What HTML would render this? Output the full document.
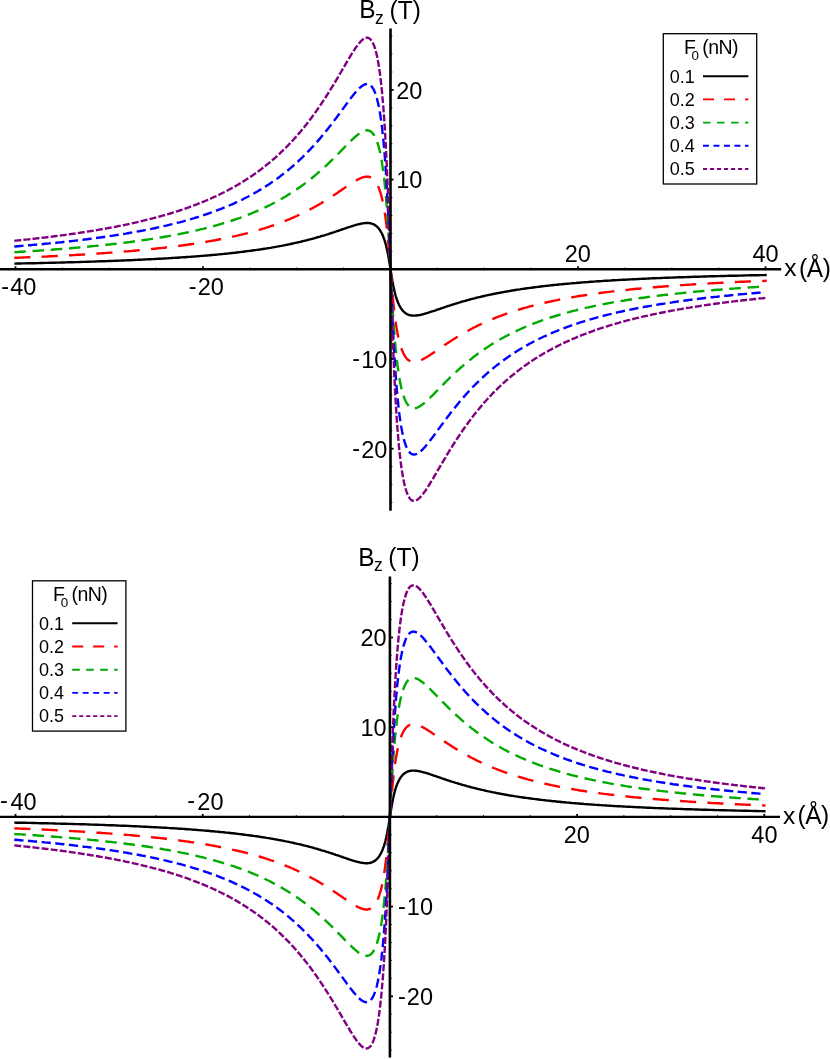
<!DOCTYPE html>
<html><head><meta charset="utf-8"><title>Bz plots</title>
<style>
html,body{margin:0;padding:0;background:#fff;}
body{width:830px;height:1059px;overflow:hidden;}
svg{display:block;will-change:transform;}
text{font-family:"Liberation Sans",sans-serif;fill:#000;}
</style></head><body>
<svg width="830" height="1059" viewBox="0 0 830 1059">
<rect x="0" y="0" width="830" height="1059" fill="#fff"/>
<path d="M15.5,263.6 18.0,263.5 20.5,263.5 23.0,263.4 25.4,263.4 27.9,263.3 30.4,263.3 32.8,263.2 35.2,263.2 37.7,263.1 40.1,263.0 42.5,263.0 44.9,262.9 47.3,262.9 49.7,262.8 52.1,262.8 54.4,262.7 56.8,262.6 59.2,262.6 61.5,262.5 63.8,262.5 66.2,262.4 68.5,262.3 70.8,262.3 73.1,262.2 75.4,262.1 77.7,262.1 80.0,262.0 82.2,261.9 84.5,261.9 86.7,261.8 89.0,261.7 91.2,261.6 93.5,261.6 95.7,261.5 97.9,261.4 100.1,261.3 102.3,261.3 104.5,261.2 106.7,261.1 108.8,261.0 111.0,261.0 113.2,260.9 115.3,260.8 117.4,260.7 119.6,260.6 121.7,260.5 123.8,260.5 125.9,260.4 128.0,260.3 130.1,260.2 132.2,260.1 134.2,260.0 136.3,259.9 138.4,259.8 140.4,259.7 142.4,259.6 144.5,259.5 146.5,259.4 148.5,259.3 150.5,259.2 152.5,259.1 154.5,259.0 156.5,258.9 158.4,258.8 160.4,258.7 162.3,258.6 164.3,258.5 166.2,258.4 168.2,258.3 170.1,258.1 172.0,258.0 173.9,257.9 175.8,257.8 177.7,257.7 179.6,257.5 181.4,257.4 183.3,257.3 185.2,257.2 187.0,257.0 188.8,256.9 190.7,256.8 192.5,256.6 194.3,256.5 196.1,256.4 197.9,256.2 199.7,256.1 201.5,255.9 203.2,255.8 205.0,255.6 206.8,255.5 208.5,255.4 210.2,255.2 212.0,255.0 213.7,254.9 215.4,254.7 217.1,254.6 218.8,254.4 220.5,254.2 222.2,254.1 223.8,253.9 225.5,253.7 227.2,253.6 228.8,253.4 230.4,253.2 232.1,253.0 233.7,252.9 235.3,252.7 236.9,252.5 238.5,252.3 240.1,252.1 241.7,251.9 243.2,251.7 244.8,251.5 246.3,251.3 247.9,251.1 249.4,250.9 251.0,250.7 252.5,250.5 254.0,250.3 255.5,250.1 257.0,249.9 258.5,249.7 260.0,249.5 261.4,249.2 262.9,249.0 264.4,248.8 265.8,248.6 267.2,248.3 268.7,248.1 270.1,247.9 271.5,247.6 272.9,247.4 274.3,247.1 275.7,246.9 277.1,246.6 278.4,246.4 279.8,246.1 281.1,245.9 282.5,245.6 283.8,245.4 285.2,245.1 286.5,244.8 287.8,244.6 289.1,244.3 290.4,244.0 291.7,243.8 293.0,243.5 294.2,243.2 295.5,242.9 296.8,242.6 298.0,242.3 299.2,242.1 300.5,241.8 301.7,241.5 302.9,241.2 304.1,240.9 305.3,240.6 306.5,240.3 307.7,240.0 308.8,239.7 310.0,239.4 311.1,239.1 312.3,238.8 313.4,238.5 314.6,238.1 315.7,237.8 316.8,237.5 317.9,237.2 319.0,236.9 320.1,236.6 321.2,236.2 322.2,235.9 323.3,235.6 324.4,235.3 325.4,235.0 326.4,234.6 327.5,234.3 328.5,234.0 329.5,233.7 330.5,233.3 331.5,233.0 332.5,232.7 333.5,232.4 334.4,232.1 335.4,231.7 336.4,231.4 337.3,231.1 338.2,230.8 339.2,230.5 340.1,230.1 341.0,229.8 341.9,229.5 342.8,229.2 343.7,228.9 344.6,228.6 345.4,228.3 346.3,228.0 347.2,227.7 348.0,227.4 348.8,227.2 349.7,226.9 350.5,226.6 351.3,226.4 352.1,226.1 352.9,225.8 353.7,225.6 354.5,225.4 355.2,225.1 356.0,224.9 356.8,224.7 357.5,224.5 358.2,224.3 359.0,224.1 359.7,224.0 360.4,223.8 361.1,223.6 361.8,223.5 362.5,223.4 363.2,223.3 363.8,223.2 364.5,223.1 365.2,223.1 365.8,223.0 366.4,223.0 367.1,223.0 367.7,223.0 368.3,223.0 368.9,223.1 369.5,223.1 370.1,223.2 370.7,223.4 371.2,223.5 371.8,223.6 372.4,223.8 372.9,224.0 373.4,224.3 374.0,224.5 374.5,224.8 375.0,225.1 375.5,225.5 376.0,225.8 376.5,226.2 377.0,226.7 377.4,227.1 377.9,227.6 378.4,228.1 378.8,228.6 379.2,229.2 379.7,229.8 380.1,230.4 380.5,231.1 380.9,231.8 381.3,232.5 381.7,233.2 382.1,234.0 382.4,234.8 382.8,235.6 383.2,236.5 383.5,237.3 383.8,238.2 384.2,239.2 384.5,240.1 384.8,241.1 385.1,242.1 385.4,243.1 385.7,244.2 386.0,245.2 386.2,246.3 386.5,247.4 386.8,248.5 387.0,249.6 387.2,250.7 387.5,251.8 387.7,252.9 387.9,254.0 388.1,255.1 388.3,256.1 388.5,257.1 388.7,258.2 388.8,259.1 389.0,260.1 389.1,261.0 389.3,261.9 389.4,262.7 389.6,263.5 389.7,264.2 389.8,264.9 389.9,265.5 390.0,266.1 390.1,266.7 390.2,267.2 390.2,267.6 390.3,268.0 390.4,268.4 390.4,268.6 390.4,268.9 390.5,269.1 390.5,269.2 390.5,269.3 390.5,269.3 390.5,269.3 390.5,269.4 390.5,269.5 390.6,269.7 390.6,270.0 390.6,270.2 390.7,270.6 390.8,271.0 390.8,271.4 390.9,271.9 391.0,272.5 391.1,273.1 391.2,273.7 391.3,274.4 391.4,275.1 391.6,275.9 391.7,276.7 391.9,277.6 392.0,278.5 392.2,279.5 392.3,280.4 392.5,281.5 392.7,282.5 392.9,283.5 393.1,284.6 393.3,285.7 393.5,286.8 393.8,287.9 394.0,289.0 394.2,290.1 394.5,291.2 394.8,292.3 395.0,293.4 395.3,294.4 395.6,295.5 395.9,296.5 396.2,297.5 396.5,298.5 396.8,299.4 397.2,300.4 397.5,301.3 397.9,302.1 398.2,303.0 398.6,303.8 398.9,304.6 399.3,305.4 399.7,306.1 400.1,306.8 400.5,307.5 400.9,308.2 401.3,308.8 401.8,309.4 402.2,310.0 402.7,310.5 403.1,311.0 403.6,311.5 404.0,311.9 404.5,312.4 405.0,312.8 405.5,313.1 406.0,313.5 406.5,313.8 407.0,314.1 407.6,314.3 408.1,314.6 408.6,314.8 409.2,315.0 409.8,315.1 410.3,315.2 410.9,315.4 411.5,315.5 412.1,315.5 412.7,315.6 413.3,315.6 413.9,315.6 414.6,315.6 415.2,315.6 415.9,315.5 416.5,315.5 417.2,315.4 417.8,315.3 418.5,315.2 419.2,315.1 419.9,315.0 420.6,314.8 421.3,314.6 422.0,314.5 422.8,314.3 423.5,314.1 424.2,313.9 425.0,313.7 425.8,313.5 426.5,313.2 427.3,313.0 428.1,312.8 428.9,312.5 429.7,312.2 430.5,312.0 431.3,311.7 432.2,311.4 433.0,311.2 433.9,310.9 434.7,310.6 435.6,310.3 436.4,310.0 437.3,309.7 438.2,309.4 439.1,309.1 440.0,308.8 440.9,308.5 441.8,308.1 442.8,307.8 443.7,307.5 444.7,307.2 445.6,306.9 446.6,306.5 447.5,306.2 448.5,305.9 449.5,305.6 450.5,305.3 451.5,304.9 452.5,304.6 453.5,304.3 454.6,304.0 455.6,303.6 456.7,303.3 457.7,303.0 458.8,302.7 459.8,302.4 460.9,302.0 462.0,301.7 463.1,301.4 464.2,301.1 465.3,300.8 466.4,300.5 467.6,300.1 468.7,299.8 469.9,299.5 471.0,299.2 472.2,298.9 473.3,298.6 474.5,298.3 475.7,298.0 476.9,297.7 478.1,297.4 479.3,297.1 480.5,296.8 481.8,296.5 483.0,296.3 484.2,296.0 485.5,295.7 486.8,295.4 488.0,295.1 489.3,294.8 490.6,294.6 491.9,294.3 493.2,294.0 494.5,293.8 495.8,293.5 497.2,293.2 498.5,293.0 499.9,292.7 501.2,292.5 502.6,292.2 503.9,292.0 505.3,291.7 506.7,291.5 508.1,291.2 509.5,291.0 510.9,290.7 512.3,290.5 513.8,290.3 515.2,290.0 516.7,289.8 518.1,289.6 519.6,289.4 521.0,289.1 522.5,288.9 524.0,288.7 525.5,288.5 527.0,288.3 528.5,288.1 530.0,287.9 531.6,287.7 533.1,287.5 534.7,287.3 536.2,287.1 537.8,286.9 539.3,286.7 540.9,286.5 542.5,286.3 544.1,286.1 545.7,285.9 547.3,285.7 548.9,285.6 550.6,285.4 552.2,285.2 553.9,285.0 555.5,284.9 557.2,284.7 558.8,284.5 560.5,284.4 562.2,284.2 563.9,284.0 565.6,283.9 567.3,283.7 569.0,283.6 570.8,283.4 572.5,283.2 574.3,283.1 576.0,283.0 577.8,282.8 579.5,282.7 581.3,282.5 583.1,282.4 584.9,282.2 586.7,282.1 588.5,282.0 590.3,281.8 592.2,281.7 594.0,281.6 595.9,281.4 597.7,281.3 599.6,281.2 601.4,281.1 603.3,280.9 605.2,280.8 607.1,280.7 609.0,280.6 610.9,280.5 612.8,280.3 614.8,280.2 616.7,280.1 618.6,280.0 620.6,279.9 622.6,279.8 624.5,279.7 626.5,279.6 628.5,279.5 630.5,279.4 632.5,279.3 634.5,279.2 636.5,279.1 638.6,279.0 640.6,278.9 642.7,278.8 644.7,278.7 646.8,278.6 648.8,278.5 650.9,278.4 653.0,278.3 655.1,278.2 657.2,278.1 659.3,278.1 661.4,278.0 663.6,277.9 665.7,277.8 667.9,277.7 670.0,277.6 672.2,277.6 674.3,277.5 676.5,277.4 678.7,277.3 680.9,277.3 683.1,277.2 685.3,277.1 687.5,277.0 689.8,277.0 692.0,276.9 694.3,276.8 696.5,276.7 698.8,276.7 701.0,276.6 703.3,276.5 705.6,276.5 707.9,276.4 710.2,276.3 712.5,276.3 714.8,276.2 717.2,276.1 719.5,276.1 721.9,276.0 724.2,276.0 726.6,275.9 728.9,275.8 731.3,275.8 733.7,275.7 736.1,275.7 738.5,275.6 740.9,275.6 743.3,275.5 745.8,275.4 748.2,275.4 750.7,275.3 753.1,275.3 755.6,275.2 758.0,275.2 760.5,275.1 763.0,275.1 765.5,275.0" fill="none" stroke="#000000" stroke-width="2.4" stroke-linecap="square" stroke-linejoin="round"/>
<path d="M15.5,257.8 18.0,257.7 20.5,257.6 23.0,257.5 25.4,257.4 27.9,257.3 30.4,257.2 32.8,257.1 35.2,257.0 37.7,256.9 40.1,256.8 42.5,256.7 44.9,256.6 47.3,256.5 49.7,256.3 52.1,256.2 54.4,256.1 56.8,256.0 59.2,255.9 61.5,255.7 63.8,255.6 66.2,255.5 68.5,255.4 70.8,255.2 73.1,255.1 75.4,255.0 77.7,254.8 80.0,254.7 82.2,254.6 84.5,254.4 86.7,254.3 89.0,254.1 91.2,254.0 93.5,253.8 95.7,253.7 97.9,253.5 100.1,253.4 102.3,253.2 104.5,253.1 106.7,252.9 108.8,252.8 111.0,252.6 113.2,252.4 115.3,252.3 117.4,252.1 119.6,251.9 121.7,251.8 123.8,251.6 125.9,251.4 128.0,251.3 130.1,251.1 132.2,250.9 134.2,250.7 136.3,250.5 138.4,250.3 140.4,250.1 142.4,249.9 144.5,249.8 146.5,249.6 148.5,249.4 150.5,249.2 152.5,248.9 154.5,248.7 156.5,248.5 158.4,248.3 160.4,248.1 162.3,247.9 164.3,247.7 166.2,247.4 168.2,247.2 170.1,247.0 172.0,246.7 173.9,246.5 175.8,246.3 177.7,246.0 179.6,245.8 181.4,245.5 183.3,245.3 185.2,245.0 187.0,244.8 188.8,244.5 190.7,244.2 192.5,244.0 194.3,243.7 196.1,243.4 197.9,243.1 199.7,242.9 201.5,242.6 203.2,242.3 205.0,242.0 206.8,241.7 208.5,241.4 210.2,241.1 212.0,240.8 213.7,240.5 215.4,240.2 217.1,239.8 218.8,239.5 220.5,239.2 222.2,238.9 223.8,238.5 225.5,238.2 227.2,237.8 228.8,237.5 230.4,237.1 232.1,236.8 233.7,236.4 235.3,236.1 236.9,235.7 238.5,235.3 240.1,234.9 241.7,234.6 243.2,234.2 244.8,233.8 246.3,233.4 247.9,233.0 249.4,232.6 251.0,232.2 252.5,231.8 254.0,231.3 255.5,230.9 257.0,230.5 258.5,230.1 260.0,229.6 261.4,229.2 262.9,228.7 264.4,228.3 265.8,227.8 267.2,227.4 268.7,226.9 270.1,226.4 271.5,225.9 272.9,225.5 274.3,225.0 275.7,224.5 277.1,224.0 278.4,223.5 279.8,223.0 281.1,222.5 282.5,222.0 283.8,221.4 285.2,220.9 286.5,220.4 287.8,219.8 289.1,219.3 290.4,218.8 291.7,218.2 293.0,217.7 294.2,217.1 295.5,216.5 296.8,216.0 298.0,215.4 299.2,214.8 300.5,214.2 301.7,213.7 302.9,213.1 304.1,212.5 305.3,211.9 306.5,211.3 307.7,210.7 308.8,210.1 310.0,209.5 311.1,208.8 312.3,208.2 313.4,207.6 314.6,207.0 315.7,206.4 316.8,205.7 317.9,205.1 319.0,204.5 320.1,203.8 321.2,203.2 322.2,202.5 323.3,201.9 324.4,201.3 325.4,200.6 326.4,200.0 327.5,199.3 328.5,198.7 329.5,198.0 330.5,197.4 331.5,196.7 332.5,196.1 333.5,195.4 334.4,194.8 335.4,194.2 336.4,193.5 337.3,192.9 338.2,192.3 339.2,191.6 340.1,191.0 341.0,190.4 341.9,189.8 342.8,189.1 343.7,188.5 344.6,187.9 345.4,187.3 346.3,186.7 347.2,186.2 348.0,185.6 348.8,185.0 349.7,184.5 350.5,183.9 351.3,183.4 352.1,182.9 352.9,182.4 353.7,181.9 354.5,181.4 355.2,181.0 356.0,180.5 356.8,180.1 357.5,179.7 358.2,179.3 359.0,178.9 359.7,178.6 360.4,178.3 361.1,178.0 361.8,177.7 362.5,177.5 363.2,177.3 363.8,177.1 364.5,176.9 365.2,176.8 365.8,176.7 366.4,176.7 367.1,176.7 367.7,176.7 368.3,176.7 368.9,176.8 369.5,177.0 370.1,177.2 370.7,177.4 371.2,177.7 371.8,178.0 372.4,178.4 372.9,178.8 373.4,179.3 374.0,179.8 374.5,180.3 375.0,181.0 375.5,181.7 376.0,182.4 376.5,183.2 377.0,184.0 377.4,184.9 377.9,185.9 378.4,186.9 378.8,188.0 379.2,189.1 379.7,190.3 380.1,191.5 380.5,192.8 380.9,194.2 381.3,195.6 381.7,197.1 382.1,198.6 382.4,200.2 382.8,201.9 383.2,203.6 383.5,205.4 383.8,207.2 384.2,209.0 384.5,211.0 384.8,212.9 385.1,214.9 385.4,217.0 385.7,219.1 386.0,221.2 386.2,223.3 386.5,225.5 386.8,227.7 387.0,229.9 387.2,232.1 387.5,234.3 387.7,236.5 387.9,238.7 388.1,240.8 388.3,242.9 388.5,245.0 388.7,247.0 388.8,249.0 389.0,250.8 389.1,252.7 389.3,254.4 389.4,256.1 389.6,257.6 389.7,259.1 389.8,260.5 389.9,261.8 390.0,263.0 390.1,264.1 390.2,265.1 390.2,266.0 390.3,266.7 390.4,267.4 390.4,268.0 390.4,268.5 390.5,268.8 390.5,269.1 390.5,269.2 390.5,269.3 390.5,269.4 390.5,269.5 390.5,269.8 390.6,270.1 390.6,270.6 390.6,271.2 390.7,271.9 390.8,272.6 390.8,273.5 390.9,274.5 391.0,275.6 391.1,276.8 391.2,278.1 391.3,279.5 391.4,281.0 391.6,282.5 391.7,284.2 391.9,285.9 392.0,287.8 392.2,289.6 392.3,291.6 392.5,293.6 392.7,295.7 392.9,297.8 393.1,299.9 393.3,302.1 393.5,304.3 393.8,306.5 394.0,308.7 394.2,310.9 394.5,313.1 394.8,315.3 395.0,317.4 395.3,319.5 395.6,321.6 395.9,323.7 396.2,325.7 396.5,327.6 396.8,329.6 397.2,331.4 397.5,333.2 397.9,335.0 398.2,336.7 398.6,338.4 398.9,340.0 399.3,341.5 399.7,343.0 400.1,344.4 400.5,345.8 400.9,347.1 401.3,348.3 401.8,349.5 402.2,350.6 402.7,351.7 403.1,352.7 403.6,353.7 404.0,354.6 404.5,355.4 405.0,356.2 405.5,356.9 406.0,357.6 406.5,358.3 407.0,358.8 407.6,359.3 408.1,359.8 408.6,360.2 409.2,360.6 409.8,360.9 410.3,361.2 410.9,361.4 411.5,361.6 412.1,361.8 412.7,361.9 413.3,361.9 413.9,361.9 414.6,361.9 415.2,361.9 415.9,361.8 416.5,361.7 417.2,361.5 417.8,361.3 418.5,361.1 419.2,360.9 419.9,360.6 420.6,360.3 421.3,360.0 422.0,359.7 422.8,359.3 423.5,358.9 424.2,358.5 425.0,358.1 425.8,357.6 426.5,357.2 427.3,356.7 428.1,356.2 428.9,355.7 429.7,355.2 430.5,354.7 431.3,354.1 432.2,353.6 433.0,353.0 433.9,352.4 434.7,351.9 435.6,351.3 436.4,350.7 437.3,350.1 438.2,349.5 439.1,348.8 440.0,348.2 440.9,347.6 441.8,347.0 442.8,346.3 443.7,345.7 444.7,345.1 445.6,344.4 446.6,343.8 447.5,343.2 448.5,342.5 449.5,341.9 450.5,341.2 451.5,340.6 452.5,339.9 453.5,339.3 454.6,338.6 455.6,338.0 456.7,337.3 457.7,336.7 458.8,336.1 459.8,335.4 460.9,334.8 462.0,334.1 463.1,333.5 464.2,332.9 465.3,332.2 466.4,331.6 467.6,331.0 468.7,330.4 469.9,329.8 471.0,329.1 472.2,328.5 473.3,327.9 474.5,327.3 475.7,326.7 476.9,326.1 478.1,325.5 479.3,324.9 480.5,324.4 481.8,323.8 483.0,323.2 484.2,322.6 485.5,322.1 486.8,321.5 488.0,320.9 489.3,320.4 490.6,319.8 491.9,319.3 493.2,318.8 494.5,318.2 495.8,317.7 497.2,317.2 498.5,316.6 499.9,316.1 501.2,315.6 502.6,315.1 503.9,314.6 505.3,314.1 506.7,313.6 508.1,313.1 509.5,312.7 510.9,312.2 512.3,311.7 513.8,311.2 515.2,310.8 516.7,310.3 518.1,309.9 519.6,309.4 521.0,309.0 522.5,308.5 524.0,308.1 525.5,307.7 527.0,307.3 528.5,306.8 530.0,306.4 531.6,306.0 533.1,305.6 534.7,305.2 536.2,304.8 537.8,304.4 539.3,304.0 540.9,303.7 542.5,303.3 544.1,302.9 545.7,302.5 547.3,302.2 548.9,301.8 550.6,301.5 552.2,301.1 553.9,300.8 555.5,300.4 557.2,300.1 558.8,299.7 560.5,299.4 562.2,299.1 563.9,298.8 565.6,298.4 567.3,298.1 569.0,297.8 570.8,297.5 572.5,297.2 574.3,296.9 576.0,296.6 577.8,296.3 579.5,296.0 581.3,295.7 583.1,295.5 584.9,295.2 586.7,294.9 588.5,294.6 590.3,294.4 592.2,294.1 594.0,293.8 595.9,293.6 597.7,293.3 599.6,293.1 601.4,292.8 603.3,292.6 605.2,292.3 607.1,292.1 609.0,291.9 610.9,291.6 612.8,291.4 614.8,291.2 616.7,290.9 618.6,290.7 620.6,290.5 622.6,290.3 624.5,290.1 626.5,289.9 628.5,289.7 630.5,289.4 632.5,289.2 634.5,289.0 636.5,288.8 638.6,288.7 640.6,288.5 642.7,288.3 644.7,288.1 646.8,287.9 648.8,287.7 650.9,287.5 653.0,287.3 655.1,287.2 657.2,287.0 659.3,286.8 661.4,286.7 663.6,286.5 665.7,286.3 667.9,286.2 670.0,286.0 672.2,285.8 674.3,285.7 676.5,285.5 678.7,285.4 680.9,285.2 683.1,285.1 685.3,284.9 687.5,284.8 689.8,284.6 692.0,284.5 694.3,284.3 696.5,284.2 698.8,284.0 701.0,283.9 703.3,283.8 705.6,283.6 707.9,283.5 710.2,283.4 712.5,283.2 714.8,283.1 717.2,283.0 719.5,282.9 721.9,282.7 724.2,282.6 726.6,282.5 728.9,282.4 731.3,282.3 733.7,282.1 736.1,282.0 738.5,281.9 740.9,281.8 743.3,281.7 745.8,281.6 748.2,281.5 750.7,281.4 753.1,281.3 755.6,281.2 758.0,281.1 760.5,281.0 763.0,280.9 765.5,280.8" fill="none" stroke="#ff0000" stroke-width="2.4" stroke-linecap="square" stroke-linejoin="round" stroke-dasharray="13.70 13.70"/>
<path d="M15.5,252.1 18.0,252.0 20.5,251.8 23.0,251.7 25.4,251.5 27.9,251.4 30.4,251.2 32.8,251.0 35.2,250.9 37.7,250.7 40.1,250.5 42.5,250.4 44.9,250.2 47.3,250.0 49.7,249.9 52.1,249.7 54.4,249.5 56.8,249.3 59.2,249.1 61.5,248.9 63.8,248.8 66.2,248.6 68.5,248.4 70.8,248.2 73.1,248.0 75.4,247.8 77.7,247.6 80.0,247.4 82.2,247.2 84.5,247.0 86.7,246.8 89.0,246.6 91.2,246.3 93.5,246.1 95.7,245.9 97.9,245.7 100.1,245.4 102.3,245.2 104.5,245.0 106.7,244.7 108.8,244.5 111.0,244.3 113.2,244.0 115.3,243.8 117.4,243.5 119.6,243.3 121.7,243.0 123.8,242.8 125.9,242.5 128.0,242.2 130.1,242.0 132.2,241.7 134.2,241.4 136.3,241.1 138.4,240.9 140.4,240.6 142.4,240.3 144.5,240.0 146.5,239.7 148.5,239.4 150.5,239.1 152.5,238.8 154.5,238.5 156.5,238.1 158.4,237.8 160.4,237.5 162.3,237.2 164.3,236.8 166.2,236.5 168.2,236.2 170.1,235.8 172.0,235.5 173.9,235.1 175.8,234.7 177.7,234.4 179.6,234.0 181.4,233.6 183.3,233.3 185.2,232.9 187.0,232.5 188.8,232.1 190.7,231.7 192.5,231.3 194.3,230.9 196.1,230.5 197.9,230.1 199.7,229.6 201.5,229.2 203.2,228.8 205.0,228.3 206.8,227.9 208.5,227.5 210.2,227.0 212.0,226.5 213.7,226.1 215.4,225.6 217.1,225.1 218.8,224.6 220.5,224.1 222.2,223.6 223.8,223.1 225.5,222.6 227.2,222.1 228.8,221.6 230.4,221.1 232.1,220.5 233.7,220.0 235.3,219.5 236.9,218.9 238.5,218.3 240.1,217.8 241.7,217.2 243.2,216.6 244.8,216.0 246.3,215.4 247.9,214.8 249.4,214.2 251.0,213.6 252.5,213.0 254.0,212.4 255.5,211.7 257.0,211.1 258.5,210.4 260.0,209.8 261.4,209.1 262.9,208.4 264.4,207.8 265.8,207.1 267.2,206.4 268.7,205.7 270.1,205.0 271.5,204.3 272.9,203.5 274.3,202.8 275.7,202.1 277.1,201.3 278.4,200.6 279.8,199.8 281.1,199.1 282.5,198.3 283.8,197.5 285.2,196.7 286.5,195.9 287.8,195.1 289.1,194.3 290.4,193.5 291.7,192.7 293.0,191.8 294.2,191.0 295.5,190.2 296.8,189.3 298.0,188.4 299.2,187.6 300.5,186.7 301.7,185.8 302.9,185.0 304.1,184.1 305.3,183.2 306.5,182.3 307.7,181.4 308.8,180.5 310.0,179.5 311.1,178.6 312.3,177.7 313.4,176.8 314.6,175.8 315.7,174.9 316.8,173.9 317.9,173.0 319.0,172.0 320.1,171.1 321.2,170.1 322.2,169.2 323.3,168.2 324.4,167.2 325.4,166.3 326.4,165.3 327.5,164.3 328.5,163.4 329.5,162.4 330.5,161.4 331.5,160.5 332.5,159.5 333.5,158.5 334.4,157.6 335.4,156.6 336.4,155.6 337.3,154.7 338.2,153.7 339.2,152.8 340.1,151.8 341.0,150.9 341.9,150.0 342.8,149.1 343.7,148.1 344.6,147.2 345.4,146.4 346.3,145.5 347.2,144.6 348.0,143.7 348.8,142.9 349.7,142.1 350.5,141.3 351.3,140.5 352.1,139.7 352.9,138.9 353.7,138.2 354.5,137.5 355.2,136.8 356.0,136.1 356.8,135.5 357.5,134.9 358.2,134.3 359.0,133.8 359.7,133.3 360.4,132.8 361.1,132.3 361.8,131.9 362.5,131.6 363.2,131.3 363.8,131.0 364.5,130.8 365.2,130.6 365.8,130.4 366.4,130.4 367.1,130.3 367.7,130.4 368.3,130.5 368.9,130.6 369.5,130.8 370.1,131.1 370.7,131.5 371.2,131.9 371.8,132.3 372.4,132.9 372.9,133.5 373.4,134.2 374.0,135.0 374.5,135.9 375.0,136.8 375.5,137.8 376.0,138.9 376.5,140.1 377.0,141.4 377.4,142.7 377.9,144.2 378.4,145.7 378.8,147.3 379.2,149.0 379.7,150.8 380.1,152.7 380.5,154.6 380.9,156.7 381.3,158.8 381.7,161.0 382.1,163.3 382.4,165.7 382.8,168.2 383.2,170.8 383.5,173.4 383.8,176.1 384.2,178.9 384.5,181.8 384.8,184.7 385.1,187.8 385.4,190.8 385.7,194.0 386.0,197.1 386.2,200.4 386.5,203.6 386.8,206.9 387.0,210.2 387.2,213.5 387.5,216.8 387.7,220.1 387.9,223.4 388.1,226.6 388.3,229.7 388.5,232.8 388.7,235.9 388.8,238.8 389.0,241.6 389.1,244.3 389.3,247.0 389.4,249.4 389.6,251.8 389.7,254.0 389.8,256.1 389.9,258.0 390.0,259.8 390.1,261.5 390.2,263.0 390.2,264.3 390.3,265.5 390.4,266.5 390.4,267.3 390.4,268.0 390.5,268.6 390.5,269.0 390.5,269.2 390.5,269.3 390.5,269.4 390.5,269.6 390.5,270.0 390.6,270.6 390.6,271.3 390.6,272.1 390.7,273.1 390.8,274.3 390.8,275.6 390.9,277.1 391.0,278.8 391.1,280.6 391.2,282.5 391.3,284.6 391.4,286.8 391.6,289.2 391.7,291.6 391.9,294.3 392.0,297.0 392.2,299.8 392.3,302.7 392.5,305.8 392.7,308.9 392.9,312.0 393.1,315.2 393.3,318.5 393.5,321.8 393.8,325.1 394.0,328.4 394.2,331.7 394.5,335.0 394.8,338.2 395.0,341.5 395.3,344.6 395.6,347.8 395.9,350.8 396.2,353.9 396.5,356.8 396.8,359.7 397.2,362.5 397.5,365.2 397.9,367.8 398.2,370.4 398.6,372.9 398.9,375.3 399.3,377.6 399.7,379.8 400.1,381.9 400.5,384.0 400.9,385.9 401.3,387.8 401.8,389.6 402.2,391.3 402.7,392.9 403.1,394.4 403.6,395.9 404.0,397.2 404.5,398.5 405.0,399.7 405.5,400.8 406.0,401.8 406.5,402.7 407.0,403.6 407.6,404.4 408.1,405.1 408.6,405.7 409.2,406.3 409.8,406.7 410.3,407.1 410.9,407.5 411.5,407.8 412.1,408.0 412.7,408.1 413.3,408.2 413.9,408.3 414.6,408.2 415.2,408.2 415.9,408.0 416.5,407.8 417.2,407.6 417.8,407.3 418.5,407.0 419.2,406.7 419.9,406.3 420.6,405.8 421.3,405.3 422.0,404.8 422.8,404.3 423.5,403.7 424.2,403.1 425.0,402.5 425.8,401.8 426.5,401.1 427.3,400.4 428.1,399.7 428.9,398.9 429.7,398.1 430.5,397.3 431.3,396.5 432.2,395.7 433.0,394.9 433.9,394.0 434.7,393.1 435.6,392.2 436.4,391.4 437.3,390.5 438.2,389.5 439.1,388.6 440.0,387.7 440.9,386.8 441.8,385.8 442.8,384.9 443.7,383.9 444.7,383.0 445.6,382.0 446.6,381.0 447.5,380.1 448.5,379.1 449.5,378.1 450.5,377.2 451.5,376.2 452.5,375.2 453.5,374.3 454.6,373.3 455.6,372.3 456.7,371.4 457.7,370.4 458.8,369.4 459.8,368.5 460.9,367.5 462.0,366.6 463.1,365.6 464.2,364.7 465.3,363.7 466.4,362.8 467.6,361.8 468.7,360.9 469.9,360.0 471.0,359.1 472.2,358.1 473.3,357.2 474.5,356.3 475.7,355.4 476.9,354.5 478.1,353.6 479.3,352.8 480.5,351.9 481.8,351.0 483.0,350.2 484.2,349.3 485.5,348.4 486.8,347.6 488.0,346.8 489.3,345.9 490.6,345.1 491.9,344.3 493.2,343.5 494.5,342.7 495.8,341.9 497.2,341.1 498.5,340.3 499.9,339.5 501.2,338.8 502.6,338.0 503.9,337.3 505.3,336.5 506.7,335.8 508.1,335.1 509.5,334.3 510.9,333.6 512.3,332.9 513.8,332.2 515.2,331.5 516.7,330.8 518.1,330.2 519.6,329.5 521.0,328.8 522.5,328.2 524.0,327.5 525.5,326.9 527.0,326.2 528.5,325.6 530.0,325.0 531.6,324.4 533.1,323.8 534.7,323.2 536.2,322.6 537.8,322.0 539.3,321.4 540.9,320.8 542.5,320.3 544.1,319.7 545.7,319.1 547.3,318.6 548.9,318.1 550.6,317.5 552.2,317.0 553.9,316.5 555.5,316.0 557.2,315.5 558.8,315.0 560.5,314.5 562.2,314.0 563.9,313.5 565.6,313.0 567.3,312.5 569.0,312.1 570.8,311.6 572.5,311.1 574.3,310.7 576.0,310.3 577.8,309.8 579.5,309.4 581.3,309.0 583.1,308.5 584.9,308.1 586.7,307.7 588.5,307.3 590.3,306.9 592.2,306.5 594.0,306.1 595.9,305.7 597.7,305.3 599.6,305.0 601.4,304.6 603.3,304.2 605.2,303.9 607.1,303.5 609.0,303.1 610.9,302.8 612.8,302.4 614.8,302.1 616.7,301.8 618.6,301.4 620.6,301.1 622.6,300.8 624.5,300.5 626.5,300.1 628.5,299.8 630.5,299.5 632.5,299.2 634.5,298.9 636.5,298.6 638.6,298.3 640.6,298.0 642.7,297.7 644.7,297.5 646.8,297.2 648.8,296.9 650.9,296.6 653.0,296.4 655.1,296.1 657.2,295.8 659.3,295.6 661.4,295.3 663.6,295.1 665.7,294.8 667.9,294.6 670.0,294.3 672.2,294.1 674.3,293.9 676.5,293.6 678.7,293.4 680.9,293.2 683.1,292.9 685.3,292.7 687.5,292.5 689.8,292.3 692.0,292.0 694.3,291.8 696.5,291.6 698.8,291.4 701.0,291.2 703.3,291.0 705.6,290.8 707.9,290.6 710.2,290.4 712.5,290.2 714.8,290.0 717.2,289.8 719.5,289.7 721.9,289.5 724.2,289.3 726.6,289.1 728.9,288.9 731.3,288.7 733.7,288.6 736.1,288.4 738.5,288.2 740.9,288.1 743.3,287.9 745.8,287.7 748.2,287.6 750.7,287.4 753.1,287.2 755.6,287.1 758.0,286.9 760.5,286.8 763.0,286.6 765.5,286.5" fill="none" stroke="#00aa00" stroke-width="2.4" stroke-linecap="square" stroke-linejoin="round" stroke-dasharray="9.13 9.13"/>
<path d="M15.5,246.4 18.0,246.2 20.5,246.0 23.0,245.8 25.4,245.6 27.9,245.4 30.4,245.2 32.8,244.9 35.2,244.7 37.7,244.5 40.1,244.3 42.5,244.1 44.9,243.8 47.3,243.6 49.7,243.4 52.1,243.1 54.4,242.9 56.8,242.7 59.2,242.4 61.5,242.2 63.8,241.9 66.2,241.7 68.5,241.4 70.8,241.2 73.1,240.9 75.4,240.6 77.7,240.4 80.0,240.1 82.2,239.8 84.5,239.5 86.7,239.3 89.0,239.0 91.2,238.7 93.5,238.4 95.7,238.1 97.9,237.8 100.1,237.5 102.3,237.2 104.5,236.9 106.7,236.6 108.8,236.2 111.0,235.9 113.2,235.6 115.3,235.3 117.4,234.9 119.6,234.6 121.7,234.3 123.8,233.9 125.9,233.6 128.0,233.2 130.1,232.8 132.2,232.5 134.2,232.1 136.3,231.7 138.4,231.4 140.4,231.0 142.4,230.6 144.5,230.2 146.5,229.8 148.5,229.4 150.5,229.0 152.5,228.6 154.5,228.2 156.5,227.8 158.4,227.3 160.4,226.9 162.3,226.5 164.3,226.0 166.2,225.6 168.2,225.1 170.1,224.6 172.0,224.2 173.9,223.7 175.8,223.2 177.7,222.7 179.6,222.3 181.4,221.8 183.3,221.3 185.2,220.7 187.0,220.2 188.8,219.7 190.7,219.2 192.5,218.6 194.3,218.1 196.1,217.5 197.9,217.0 199.7,216.4 201.5,215.9 203.2,215.3 205.0,214.7 206.8,214.1 208.5,213.5 210.2,212.9 212.0,212.3 213.7,211.7 215.4,211.0 217.1,210.4 218.8,209.7 220.5,209.1 222.2,208.4 223.8,207.8 225.5,207.1 227.2,206.4 228.8,205.7 230.4,205.0 232.1,204.3 233.7,203.6 235.3,202.8 236.9,202.1 238.5,201.4 240.1,200.6 241.7,199.8 243.2,199.1 244.8,198.3 246.3,197.5 247.9,196.7 249.4,195.9 251.0,195.1 252.5,194.2 254.0,193.4 255.5,192.5 257.0,191.7 258.5,190.8 260.0,189.9 261.4,189.1 262.9,188.2 264.4,187.3 265.8,186.3 267.2,185.4 268.7,184.5 270.1,183.5 271.5,182.6 272.9,181.6 274.3,180.7 275.7,179.7 277.1,178.7 278.4,177.7 279.8,176.7 281.1,175.6 282.5,174.6 283.8,173.6 285.2,172.5 286.5,171.5 287.8,170.4 289.1,169.3 290.4,168.2 291.7,167.1 293.0,166.0 294.2,164.9 295.5,163.8 296.8,162.6 298.0,161.5 299.2,160.3 300.5,159.2 301.7,158.0 302.9,156.8 304.1,155.7 305.3,154.5 306.5,153.3 307.7,152.1 308.8,150.8 310.0,149.6 311.1,148.4 312.3,147.2 313.4,145.9 314.6,144.7 315.7,143.4 316.8,142.2 317.9,140.9 319.0,139.6 320.1,138.4 321.2,137.1 322.2,135.8 323.3,134.5 324.4,133.2 325.4,131.9 326.4,130.6 327.5,129.4 328.5,128.1 329.5,126.8 330.5,125.5 331.5,124.2 332.5,122.9 333.5,121.6 334.4,120.3 335.4,119.0 336.4,117.8 337.3,116.5 338.2,115.2 339.2,113.9 340.1,112.7 341.0,111.4 341.9,110.2 342.8,109.0 343.7,107.8 344.6,106.6 345.4,105.4 346.3,104.2 347.2,103.0 348.0,101.9 348.8,100.8 349.7,99.7 350.5,98.6 351.3,97.5 352.1,96.5 352.9,95.5 353.7,94.5 354.5,93.6 355.2,92.6 356.0,91.8 356.8,90.9 357.5,90.1 358.2,89.3 359.0,88.6 359.7,87.9 360.4,87.3 361.1,86.7 361.8,86.2 362.5,85.7 363.2,85.2 363.8,84.9 364.5,84.6 365.2,84.3 365.8,84.2 366.4,84.0 367.1,84.0 367.7,84.1 368.3,84.2 368.9,84.4 369.5,84.7 370.1,85.0 370.7,85.5 371.2,86.1 371.8,86.7 372.4,87.4 372.9,88.3 373.4,89.2 374.0,90.3 374.5,91.4 375.0,92.6 375.5,94.0 376.0,95.5 376.5,97.1 377.0,98.7 377.4,100.5 377.9,102.5 378.4,104.5 378.8,106.6 379.2,108.9 379.7,111.3 380.1,113.8 380.5,116.4 380.9,119.1 381.3,122.0 381.7,124.9 382.1,128.0 382.4,131.2 382.8,134.5 383.2,137.9 383.5,141.4 383.8,145.1 384.2,148.8 384.5,152.6 384.8,156.6 385.1,160.6 385.4,164.7 385.7,168.8 386.0,173.1 386.2,177.4 386.5,181.7 386.8,186.1 387.0,190.5 387.2,194.9 387.5,199.3 387.7,203.7 387.9,208.0 388.1,212.3 388.3,216.6 388.5,220.7 388.7,224.7 388.8,228.6 389.0,232.4 389.1,236.0 389.3,239.5 389.4,242.8 389.6,246.0 389.7,248.9 389.8,251.7 389.9,254.3 390.0,256.7 390.1,258.9 390.2,260.8 390.2,262.6 390.3,264.2 390.4,265.5 390.4,266.7 390.4,267.6 390.5,268.4 390.5,268.9 390.5,269.2 390.5,269.3 390.5,269.4 390.5,269.7 390.5,270.2 390.6,271.0 390.6,271.9 390.6,273.1 390.7,274.4 390.8,276.0 390.8,277.8 390.9,279.7 391.0,281.9 391.1,284.3 391.2,286.9 391.3,289.7 391.4,292.6 391.6,295.8 391.7,299.1 391.9,302.6 392.0,306.2 392.2,310.0 392.3,313.9 392.5,317.9 392.7,322.0 392.9,326.3 393.1,330.6 393.3,334.9 393.5,339.3 393.8,343.7 394.0,348.1 394.2,352.5 394.5,356.9 394.8,361.2 395.0,365.5 395.3,369.8 395.6,373.9 395.9,378.0 396.2,382.0 396.5,386.0 396.8,389.8 397.2,393.5 397.5,397.2 397.9,400.7 398.2,404.1 398.6,407.4 398.9,410.6 399.3,413.7 399.7,416.6 400.1,419.5 400.5,422.2 400.9,424.8 401.3,427.3 401.8,429.7 402.2,432.0 402.7,434.1 403.1,436.1 403.6,438.1 404.0,439.9 404.5,441.5 405.0,443.1 405.5,444.6 406.0,446.0 406.5,447.2 407.0,448.3 407.6,449.4 408.1,450.3 408.6,451.2 409.2,451.9 409.8,452.5 410.3,453.1 410.9,453.6 411.5,453.9 412.1,454.2 412.7,454.4 413.3,454.5 413.9,454.6 414.6,454.6 415.2,454.4 415.9,454.3 416.5,454.0 417.2,453.7 417.8,453.4 418.5,452.9 419.2,452.4 419.9,451.9 420.6,451.3 421.3,450.7 422.0,450.0 422.8,449.3 423.5,448.5 424.2,447.7 425.0,446.8 425.8,446.0 426.5,445.0 427.3,444.1 428.1,443.1 428.9,442.1 429.7,441.1 430.5,440.0 431.3,438.9 432.2,437.8 433.0,436.7 433.9,435.6 434.7,434.4 435.6,433.2 436.4,432.0 437.3,430.8 438.2,429.6 439.1,428.4 440.0,427.2 440.9,425.9 441.8,424.7 442.8,423.4 443.7,422.1 444.7,420.8 445.6,419.6 446.6,418.3 447.5,417.0 448.5,415.7 449.5,414.4 450.5,413.1 451.5,411.8 452.5,410.5 453.5,409.2 454.6,408.0 455.6,406.7 456.7,405.4 457.7,404.1 458.8,402.8 459.8,401.5 460.9,400.2 462.0,399.0 463.1,397.7 464.2,396.4 465.3,395.2 466.4,393.9 467.6,392.7 468.7,391.4 469.9,390.2 471.0,389.0 472.2,387.8 473.3,386.5 474.5,385.3 475.7,384.1 476.9,382.9 478.1,381.8 479.3,380.6 480.5,379.4 481.8,378.3 483.0,377.1 484.2,376.0 485.5,374.8 486.8,373.7 488.0,372.6 489.3,371.5 490.6,370.4 491.9,369.3 493.2,368.2 494.5,367.1 495.8,366.1 497.2,365.0 498.5,364.0 499.9,363.0 501.2,361.9 502.6,360.9 503.9,359.9 505.3,358.9 506.7,357.9 508.1,357.0 509.5,356.0 510.9,355.1 512.3,354.1 513.8,353.2 515.2,352.3 516.7,351.3 518.1,350.4 519.6,349.5 521.0,348.7 522.5,347.8 524.0,346.9 525.5,346.1 527.0,345.2 528.5,344.4 530.0,343.5 531.6,342.7 533.1,341.9 534.7,341.1 536.2,340.3 537.8,339.5 539.3,338.8 540.9,338.0 542.5,337.2 544.1,336.5 545.7,335.8 547.3,335.0 548.9,334.3 550.6,333.6 552.2,332.9 553.9,332.2 555.5,331.5 557.2,330.8 558.8,330.2 560.5,329.5 562.2,328.9 563.9,328.2 565.6,327.6 567.3,326.9 569.0,326.3 570.8,325.7 572.5,325.1 574.3,324.5 576.0,323.9 577.8,323.3 579.5,322.7 581.3,322.2 583.1,321.6 584.9,321.1 586.7,320.5 588.5,320.0 590.3,319.4 592.2,318.9 594.0,318.4 595.9,317.9 597.7,317.3 599.6,316.8 601.4,316.3 603.3,315.9 605.2,315.4 607.1,314.9 609.0,314.4 610.9,314.0 612.8,313.5 614.8,313.0 616.7,312.6 618.6,312.1 620.6,311.7 622.6,311.3 624.5,310.8 626.5,310.4 628.5,310.0 630.5,309.6 632.5,309.2 634.5,308.8 636.5,308.4 638.6,308.0 640.6,307.6 642.7,307.2 644.7,306.9 646.8,306.5 648.8,306.1 650.9,305.8 653.0,305.4 655.1,305.0 657.2,304.7 659.3,304.3 661.4,304.0 663.6,303.7 665.7,303.3 667.9,303.0 670.0,302.7 672.2,302.4 674.3,302.0 676.5,301.7 678.7,301.4 680.9,301.1 683.1,300.8 685.3,300.5 687.5,300.2 689.8,299.9 692.0,299.6 694.3,299.3 696.5,299.1 698.8,298.8 701.0,298.5 703.3,298.2 705.6,298.0 707.9,297.7 710.2,297.4 712.5,297.2 714.8,296.9 717.2,296.7 719.5,296.4 721.9,296.2 724.2,295.9 726.6,295.7 728.9,295.5 731.3,295.2 733.7,295.0 736.1,294.8 738.5,294.5 740.9,294.3 743.3,294.1 745.8,293.9 748.2,293.7 750.7,293.4 753.1,293.2 755.6,293.0 758.0,292.8 760.5,292.6 763.0,292.4 765.5,292.2" fill="none" stroke="#0000ff" stroke-width="2.4" stroke-linecap="square" stroke-linejoin="round" stroke-dasharray="6.85 6.85"/>
<path d="M15.5,240.7 18.0,240.4 20.5,240.2 23.0,239.9 25.4,239.6 27.9,239.4 30.4,239.1 32.8,238.9 35.2,238.6 37.7,238.3 40.1,238.0 42.5,237.7 44.9,237.5 47.3,237.2 49.7,236.9 52.1,236.6 54.4,236.3 56.8,236.0 59.2,235.7 61.5,235.4 63.8,235.1 66.2,234.8 68.5,234.4 70.8,234.1 73.1,233.8 75.4,233.5 77.7,233.1 80.0,232.8 82.2,232.4 84.5,232.1 86.7,231.7 89.0,231.4 91.2,231.0 93.5,230.7 95.7,230.3 97.9,229.9 100.1,229.5 102.3,229.2 104.5,228.8 106.7,228.4 108.8,228.0 111.0,227.6 113.2,227.2 115.3,226.8 117.4,226.3 119.6,225.9 121.7,225.5 123.8,225.1 125.9,224.6 128.0,224.2 130.1,223.7 132.2,223.3 134.2,222.8 136.3,222.4 138.4,221.9 140.4,221.4 142.4,220.9 144.5,220.4 146.5,219.9 148.5,219.4 150.5,218.9 152.5,218.4 154.5,217.9 156.5,217.4 158.4,216.8 160.4,216.3 162.3,215.7 164.3,215.2 166.2,214.6 168.2,214.1 170.1,213.5 172.0,212.9 173.9,212.3 175.8,211.7 177.7,211.1 179.6,210.5 181.4,209.9 183.3,209.2 185.2,208.6 187.0,208.0 188.8,207.3 190.7,206.6 192.5,206.0 194.3,205.3 196.1,204.6 197.9,203.9 199.7,203.2 201.5,202.5 203.2,201.8 205.0,201.0 206.8,200.3 208.5,199.6 210.2,198.8 212.0,198.0 213.7,197.2 215.4,196.5 217.1,195.7 218.8,194.9 220.5,194.0 222.2,193.2 223.8,192.4 225.5,191.5 227.2,190.7 228.8,189.8 230.4,188.9 232.1,188.0 233.7,187.1 235.3,186.2 236.9,185.3 238.5,184.4 240.1,183.4 241.7,182.5 243.2,181.5 244.8,180.5 246.3,179.5 247.9,178.5 249.4,177.5 251.0,176.5 252.5,175.5 254.0,174.4 255.5,173.4 257.0,172.3 258.5,171.2 260.0,170.1 261.4,169.0 262.9,167.9 264.4,166.7 265.8,165.6 267.2,164.4 268.7,163.3 270.1,162.1 271.5,160.9 272.9,159.7 274.3,158.5 275.7,157.3 277.1,156.0 278.4,154.8 279.8,153.5 281.1,152.2 282.5,150.9 283.8,149.6 285.2,148.3 286.5,147.0 287.8,145.7 289.1,144.3 290.4,142.9 291.7,141.6 293.0,140.2 294.2,138.8 295.5,137.4 296.8,136.0 298.0,134.5 299.2,133.1 300.5,131.7 301.7,130.2 302.9,128.7 304.1,127.2 305.3,125.8 306.5,124.3 307.7,122.7 308.8,121.2 310.0,119.7 311.1,118.2 312.3,116.6 313.4,115.1 314.6,113.5 315.7,111.9 316.8,110.4 317.9,108.8 319.0,107.2 320.1,105.6 321.2,104.0 322.2,102.4 323.3,100.8 324.4,99.2 325.4,97.6 326.4,96.0 327.5,94.4 328.5,92.7 329.5,91.1 330.5,89.5 331.5,87.9 332.5,86.3 333.5,84.7 334.4,83.1 335.4,81.5 336.4,79.9 337.3,78.3 338.2,76.7 339.2,75.1 340.1,73.5 341.0,72.0 341.9,70.4 342.8,68.9 343.7,67.4 344.6,65.9 345.4,64.4 346.3,62.9 347.2,61.5 348.0,60.0 348.8,58.6 349.7,57.3 350.5,55.9 351.3,54.6 352.1,53.3 352.9,52.0 353.7,50.8 354.5,49.6 355.2,48.5 356.0,47.4 356.8,46.3 357.5,45.3 358.2,44.3 359.0,43.4 359.7,42.6 360.4,41.8 361.1,41.0 361.8,40.4 362.5,39.8 363.2,39.2 363.8,38.8 364.5,38.4 365.2,38.1 365.8,37.9 366.4,37.7 367.1,37.7 367.7,37.8 368.3,37.9 368.9,38.2 369.5,38.5 370.1,39.0 370.7,39.6 371.2,40.2 371.8,41.0 372.4,42.0 372.9,43.0 373.4,44.2 374.0,45.5 374.5,46.9 375.0,48.5 375.5,50.2 376.0,52.0 376.5,54.0 377.0,56.1 377.4,58.4 377.9,60.7 378.4,63.3 378.8,66.0 379.2,68.8 379.7,71.8 380.1,74.9 380.5,78.2 380.9,81.6 381.3,85.1 381.7,88.8 382.1,92.7 382.4,96.7 382.8,100.8 383.2,105.1 383.5,109.5 383.8,114.0 384.2,118.7 384.5,123.5 384.8,128.4 385.1,133.4 385.4,138.5 385.7,143.7 386.0,149.0 386.2,154.4 386.5,159.8 386.8,165.3 387.0,170.8 387.2,176.3 387.5,181.8 387.7,187.3 387.9,192.7 388.1,198.1 388.3,203.4 388.5,208.5 388.7,213.6 388.8,218.4 389.0,223.2 389.1,227.7 389.3,232.1 389.4,236.2 389.6,240.1 389.7,243.8 389.8,247.3 389.9,250.5 390.0,253.5 390.1,256.2 390.2,258.7 390.2,260.9 390.3,262.9 390.4,264.6 390.4,266.0 390.4,267.2 390.5,268.1 390.5,268.8 390.5,269.2 390.5,269.3 390.5,269.4 390.5,269.8 390.5,270.5 390.6,271.4 390.6,272.6 390.6,274.0 390.7,275.7 390.8,277.7 390.8,279.9 390.9,282.4 391.0,285.1 391.1,288.1 391.2,291.3 391.3,294.8 391.4,298.5 391.6,302.4 391.7,306.5 391.9,310.9 392.0,315.4 392.2,320.2 392.3,325.0 392.5,330.1 392.7,335.2 392.9,340.5 393.1,345.9 393.3,351.3 393.5,356.8 393.8,362.3 394.0,367.8 394.2,373.3 394.5,378.8 394.8,384.2 395.0,389.6 395.3,394.9 395.6,400.1 395.9,405.2 396.2,410.2 396.5,415.1 396.8,419.9 397.2,424.6 397.5,429.1 397.9,433.5 398.2,437.8 398.6,441.9 398.9,445.9 399.3,449.8 399.7,453.5 400.1,457.0 400.5,460.4 400.9,463.7 401.3,466.8 401.8,469.8 402.2,472.6 402.7,475.3 403.1,477.9 403.6,480.2 404.0,482.5 404.5,484.6 405.0,486.6 405.5,488.4 406.0,490.1 406.5,491.7 407.0,493.1 407.6,494.4 408.1,495.6 408.6,496.6 409.2,497.6 409.8,498.4 410.3,499.0 410.9,499.6 411.5,500.1 412.1,500.4 412.7,500.7 413.3,500.8 413.9,500.9 414.6,500.9 415.2,500.7 415.9,500.5 416.5,500.2 417.2,499.8 417.8,499.4 418.5,498.8 419.2,498.2 419.9,497.6 420.6,496.8 421.3,496.0 422.0,495.2 422.8,494.3 423.5,493.3 424.2,492.3 425.0,491.2 425.8,490.1 426.5,489.0 427.3,487.8 428.1,486.6 428.9,485.3 429.7,484.0 430.5,482.7 431.3,481.3 432.2,480.0 433.0,478.6 433.9,477.1 434.7,475.7 435.6,474.2 436.4,472.7 437.3,471.2 438.2,469.7 439.1,468.2 440.0,466.6 440.9,465.1 441.8,463.5 442.8,461.9 443.7,460.3 444.7,458.7 445.6,457.1 446.6,455.5 447.5,453.9 448.5,452.3 449.5,450.7 450.5,449.1 451.5,447.5 452.5,445.9 453.5,444.2 454.6,442.6 455.6,441.0 456.7,439.4 457.7,437.8 458.8,436.2 459.8,434.6 460.9,433.0 462.0,431.4 463.1,429.8 464.2,428.2 465.3,426.7 466.4,425.1 467.6,423.5 468.7,422.0 469.9,420.4 471.0,418.9 472.2,417.4 473.3,415.9 474.5,414.3 475.7,412.8 476.9,411.4 478.1,409.9 479.3,408.4 480.5,406.9 481.8,405.5 483.0,404.1 484.2,402.6 485.5,401.2 486.8,399.8 488.0,398.4 489.3,397.0 490.6,395.7 491.9,394.3 493.2,392.9 494.5,391.6 495.8,390.3 497.2,389.0 498.5,387.7 499.9,386.4 501.2,385.1 502.6,383.8 503.9,382.6 505.3,381.3 506.7,380.1 508.1,378.9 509.5,377.7 510.9,376.5 512.3,375.3 513.8,374.2 515.2,373.0 516.7,371.9 518.1,370.7 519.6,369.6 521.0,368.5 522.5,367.4 524.0,366.3 525.5,365.2 527.0,364.2 528.5,363.1 530.0,362.1 531.6,361.1 533.1,360.1 534.7,359.1 536.2,358.1 537.8,357.1 539.3,356.1 540.9,355.2 542.5,354.2 544.1,353.3 545.7,352.4 547.3,351.5 548.9,350.6 550.6,349.7 552.2,348.8 553.9,347.9 555.5,347.1 557.2,346.2 558.8,345.4 560.5,344.6 562.2,343.7 563.9,342.9 565.6,342.1 567.3,341.4 569.0,340.6 570.8,339.8 572.5,339.0 574.3,338.3 576.0,337.6 577.8,336.8 579.5,336.1 581.3,335.4 583.1,334.7 584.9,334.0 586.7,333.3 588.5,332.6 590.3,332.0 592.2,331.3 594.0,330.6 595.9,330.0 597.7,329.4 599.6,328.7 601.4,328.1 603.3,327.5 605.2,326.9 607.1,326.3 609.0,325.7 610.9,325.1 612.8,324.5 614.8,324.0 616.7,323.4 618.6,322.9 620.6,322.3 622.6,321.8 624.5,321.2 626.5,320.7 628.5,320.2 630.5,319.7 632.5,319.2 634.5,318.7 636.5,318.2 638.6,317.7 640.6,317.2 642.7,316.7 644.7,316.2 646.8,315.8 648.8,315.3 650.9,314.9 653.0,314.4 655.1,314.0 657.2,313.5 659.3,313.1 661.4,312.7 663.6,312.3 665.7,311.8 667.9,311.4 670.0,311.0 672.2,310.6 674.3,310.2 676.5,309.8 678.7,309.4 680.9,309.1 683.1,308.7 685.3,308.3 687.5,307.9 689.8,307.6 692.0,307.2 694.3,306.9 696.5,306.5 698.8,306.2 701.0,305.8 703.3,305.5 705.6,305.1 707.9,304.8 710.2,304.5 712.5,304.2 714.8,303.8 717.2,303.5 719.5,303.2 721.9,302.9 724.2,302.6 726.6,302.3 728.9,302.0 731.3,301.7 733.7,301.4 736.1,301.1 738.5,300.9 740.9,300.6 743.3,300.3 745.8,300.0 748.2,299.7 750.7,299.5 753.1,299.2 755.6,299.0 758.0,298.7 760.5,298.4 763.0,298.2 765.5,297.9" fill="none" stroke="#800080" stroke-width="2.4" stroke-linecap="square" stroke-linejoin="round" stroke-dasharray="4.57 4.57"/>
<line x1="0" y1="269.3" x2="781.2" y2="269.3" stroke="#000" stroke-width="2.4"/>
<line x1="390.5" y1="28.5" x2="390.5" y2="510.7" stroke="#000" stroke-width="2.6"/>
<line x1="15.5" y1="269.3" x2="15.5" y2="266.3" stroke="#000" stroke-width="1.8"/>
<line x1="62.4" y1="269.3" x2="62.4" y2="267.5" stroke="#000" stroke-width="0.9"/>
<line x1="109.2" y1="269.3" x2="109.2" y2="267.5" stroke="#000" stroke-width="0.9"/>
<line x1="156.1" y1="269.3" x2="156.1" y2="267.5" stroke="#000" stroke-width="0.9"/>
<line x1="203.0" y1="269.3" x2="203.0" y2="266.3" stroke="#000" stroke-width="1.8"/>
<line x1="249.9" y1="269.3" x2="249.9" y2="267.5" stroke="#000" stroke-width="0.9"/>
<line x1="296.8" y1="269.3" x2="296.8" y2="267.5" stroke="#000" stroke-width="0.9"/>
<line x1="343.6" y1="269.3" x2="343.6" y2="267.5" stroke="#000" stroke-width="0.9"/>
<line x1="437.4" y1="269.3" x2="437.4" y2="267.5" stroke="#000" stroke-width="0.9"/>
<line x1="484.2" y1="269.3" x2="484.2" y2="267.5" stroke="#000" stroke-width="0.9"/>
<line x1="531.1" y1="269.3" x2="531.1" y2="267.5" stroke="#000" stroke-width="0.9"/>
<line x1="578.0" y1="269.3" x2="578.0" y2="266.3" stroke="#000" stroke-width="1.8"/>
<line x1="624.9" y1="269.3" x2="624.9" y2="267.5" stroke="#000" stroke-width="0.9"/>
<line x1="671.8" y1="269.3" x2="671.8" y2="267.5" stroke="#000" stroke-width="0.9"/>
<line x1="718.6" y1="269.3" x2="718.6" y2="267.5" stroke="#000" stroke-width="0.9"/>
<line x1="765.5" y1="269.3" x2="765.5" y2="266.3" stroke="#000" stroke-width="1.8"/>
<line x1="390.5" y1="502.5" x2="392.4" y2="502.5" stroke="#000" stroke-width="0.9"/>
<line x1="390.5" y1="484.6" x2="392.4" y2="484.6" stroke="#000" stroke-width="0.9"/>
<line x1="390.5" y1="466.6" x2="392.4" y2="466.6" stroke="#000" stroke-width="0.9"/>
<line x1="390.5" y1="448.7" x2="393.6" y2="448.7" stroke="#000" stroke-width="1.8"/>
<line x1="390.5" y1="430.8" x2="392.4" y2="430.8" stroke="#000" stroke-width="0.9"/>
<line x1="390.5" y1="412.8" x2="392.4" y2="412.8" stroke="#000" stroke-width="0.9"/>
<line x1="390.5" y1="394.9" x2="392.4" y2="394.9" stroke="#000" stroke-width="0.9"/>
<line x1="390.5" y1="376.9" x2="392.4" y2="376.9" stroke="#000" stroke-width="0.9"/>
<line x1="390.5" y1="359.0" x2="393.6" y2="359.0" stroke="#000" stroke-width="1.8"/>
<line x1="390.5" y1="341.1" x2="392.4" y2="341.1" stroke="#000" stroke-width="0.9"/>
<line x1="390.5" y1="323.1" x2="392.4" y2="323.1" stroke="#000" stroke-width="0.9"/>
<line x1="390.5" y1="305.2" x2="392.4" y2="305.2" stroke="#000" stroke-width="0.9"/>
<line x1="390.5" y1="287.2" x2="392.4" y2="287.2" stroke="#000" stroke-width="0.9"/>
<line x1="390.5" y1="251.4" x2="392.4" y2="251.4" stroke="#000" stroke-width="0.9"/>
<line x1="390.5" y1="233.4" x2="392.4" y2="233.4" stroke="#000" stroke-width="0.9"/>
<line x1="390.5" y1="215.5" x2="392.4" y2="215.5" stroke="#000" stroke-width="0.9"/>
<line x1="390.5" y1="197.5" x2="392.4" y2="197.5" stroke="#000" stroke-width="0.9"/>
<line x1="390.5" y1="179.6" x2="393.6" y2="179.6" stroke="#000" stroke-width="1.8"/>
<line x1="390.5" y1="161.7" x2="392.4" y2="161.7" stroke="#000" stroke-width="0.9"/>
<line x1="390.5" y1="143.7" x2="392.4" y2="143.7" stroke="#000" stroke-width="0.9"/>
<line x1="390.5" y1="125.8" x2="392.4" y2="125.8" stroke="#000" stroke-width="0.9"/>
<line x1="390.5" y1="107.8" x2="392.4" y2="107.8" stroke="#000" stroke-width="0.9"/>
<line x1="390.5" y1="89.9" x2="393.6" y2="89.9" stroke="#000" stroke-width="1.8"/>
<line x1="390.5" y1="72.0" x2="392.4" y2="72.0" stroke="#000" stroke-width="0.9"/>
<line x1="390.5" y1="54.0" x2="392.4" y2="54.0" stroke="#000" stroke-width="0.9"/>
<line x1="390.5" y1="36.1" x2="392.4" y2="36.1" stroke="#000" stroke-width="0.9"/>
<text x="1.3" y="295.4" font-size="23.5"><tspan dy="-1.6">-</tspan><tspan dx="1.0" dy="1.6">40</tspan></text>
<text x="188.8" y="295.4" font-size="23.5"><tspan dy="-1.6">-</tspan><tspan dx="1.0" dy="1.6">20</tspan></text>
<text x="577.7" y="262.0" font-size="23.5" text-anchor="middle">20</text>
<text x="765.6" y="262.0" font-size="23.5" text-anchor="middle">40</text>
<text x="396.2" y="188.4" font-size="23.5" text-anchor="start">10</text>
<text x="387.3" y="367.8" font-size="23.5" text-anchor="end"><tspan dy="-1.6">-</tspan><tspan dx="1.0" dy="1.6">10</tspan></text>
<text x="396.2" y="98.7" font-size="23.5" text-anchor="start">20</text>
<text x="387.3" y="457.5" font-size="23.5" text-anchor="end"><tspan dy="-1.6">-</tspan><tspan dx="1.0" dy="1.6">20</tspan></text>
<text transform="translate(359.2,18.2) scale(1,1.07)" font-size="24.5">B</text>
<text x="375.1" y="23.8" font-size="17.5">z</text>
<text transform="translate(389.6,18.5) scale(1,1.07)" font-size="24.5">(T)</text>
<text x="784.3" y="275.9" font-size="24.5" text-anchor="start">x</text>
<text transform="translate(799.0,276.6) scale(1,1.07)" font-size="24.5" letter-spacing="-0.4">(Å)</text>
<rect x="663.3" y="33.7" width="93.4" height="150.3" fill="#fff" stroke="#000" stroke-width="1.3"/>
<text x="683.9" y="53.9" font-size="19.5">F</text>
<text x="691.6" y="59.8" font-size="13.4">0</text>
<text x="702.2" y="53.9" font-size="19.5" letter-spacing="-0.5">(nN)</text>
<text x="669.7" y="82.5" font-size="18">0.1</text>
<line x1="703.0" y1="76.2" x2="748.4" y2="76.2" stroke="#000000" stroke-width="1.9"/>
<text x="669.7" y="105.7" font-size="18">0.2</text>
<line x1="703.0" y1="99.4" x2="748.4" y2="99.4" stroke="#ff0000" stroke-width="1.9" stroke-dasharray="11.00 10.00"/>
<text x="669.7" y="128.9" font-size="18">0.3</text>
<line x1="703.0" y1="122.6" x2="748.4" y2="122.6" stroke="#00aa00" stroke-width="1.9" stroke-dasharray="7.60 6.40"/>
<text x="669.7" y="152.1" font-size="18">0.4</text>
<line x1="703.0" y1="145.8" x2="748.4" y2="145.8" stroke="#0000ff" stroke-width="1.9" stroke-dasharray="5.90 4.60"/>
<text x="669.7" y="175.3" font-size="18">0.5</text>
<line x1="703.0" y1="169.0" x2="748.4" y2="169.0" stroke="#800080" stroke-width="1.9" stroke-dasharray="4.10 2.90"/>
<path d="M15.5,822.6 18.0,822.7 20.5,822.7 23.0,822.8 25.4,822.8 27.9,822.9 30.3,822.9 32.8,823.0 35.2,823.0 37.6,823.1 40.0,823.2 42.5,823.2 44.9,823.3 47.2,823.3 49.6,823.4 52.0,823.4 54.4,823.5 56.7,823.6 59.1,823.6 61.4,823.7 63.8,823.7 66.1,823.8 68.4,823.9 70.7,823.9 73.0,824.0 75.3,824.1 77.6,824.1 79.9,824.2 82.1,824.3 84.4,824.3 86.6,824.4 88.9,824.5 91.1,824.6 93.3,824.6 95.6,824.7 97.8,824.8 100.0,824.9 102.2,824.9 104.3,825.0 106.5,825.1 108.7,825.2 110.8,825.2 113.0,825.3 115.1,825.4 117.3,825.5 119.4,825.6 121.5,825.7 123.6,825.7 125.7,825.8 127.8,825.9 129.9,826.0 132.0,826.1 134.0,826.2 136.1,826.3 138.2,826.4 140.2,826.5 142.2,826.6 144.3,826.7 146.3,826.8 148.3,826.9 150.3,827.0 152.3,827.1 154.3,827.2 156.2,827.3 158.2,827.4 160.2,827.5 162.1,827.6 164.1,827.7 166.0,827.8 167.9,827.9 169.8,828.1 171.7,828.2 173.6,828.3 175.5,828.4 177.4,828.5 179.3,828.7 181.2,828.8 183.0,828.9 184.9,829.0 186.7,829.2 188.6,829.3 190.4,829.4 192.2,829.6 194.0,829.7 195.8,829.8 197.6,830.0 199.4,830.1 201.2,830.3 202.9,830.4 204.7,830.6 206.4,830.7 208.2,830.8 209.9,831.0 211.6,831.2 213.4,831.3 215.1,831.5 216.8,831.6 218.5,831.8 220.2,832.0 221.8,832.1 223.5,832.3 225.2,832.5 226.8,832.6 228.5,832.8 230.1,833.0 231.7,833.2 233.3,833.3 234.9,833.5 236.5,833.7 238.1,833.9 239.7,834.1 241.3,834.3 242.9,834.5 244.4,834.7 246.0,834.9 247.5,835.1 249.1,835.3 250.6,835.5 252.1,835.7 253.6,835.9 255.1,836.1 256.6,836.3 258.1,836.5 259.6,836.7 261.0,837.0 262.5,837.2 264.0,837.4 265.4,837.6 266.8,837.9 268.3,838.1 269.7,838.3 271.1,838.6 272.5,838.8 273.9,839.1 275.3,839.3 276.6,839.6 278.0,839.8 279.4,840.1 280.7,840.3 282.1,840.6 283.4,840.8 284.7,841.1 286.0,841.4 287.4,841.6 288.7,841.9 290.0,842.2 291.2,842.4 292.5,842.7 293.8,843.0 295.0,843.3 296.3,843.6 297.5,843.9 298.8,844.1 300.0,844.4 301.2,844.7 302.4,845.0 303.6,845.3 304.8,845.6 306.0,845.9 307.2,846.2 308.4,846.5 309.5,846.8 310.7,847.1 311.8,847.4 313.0,847.7 314.1,848.1 315.2,848.4 316.3,848.7 317.4,849.0 318.5,849.3 319.6,849.6 320.7,850.0 321.7,850.3 322.8,850.6 323.9,850.9 324.9,851.2 325.9,851.6 327.0,851.9 328.0,852.2 329.0,852.5 330.0,852.9 331.0,853.2 332.0,853.5 333.0,853.8 333.9,854.1 334.9,854.5 335.8,854.8 336.8,855.1 337.7,855.4 338.6,855.7 339.6,856.1 340.5,856.4 341.4,856.7 342.3,857.0 343.2,857.3 344.0,857.6 344.9,857.9 345.8,858.2 346.6,858.5 347.5,858.8 348.3,859.0 349.1,859.3 349.9,859.6 350.8,859.8 351.6,860.1 352.4,860.4 353.1,860.6 353.9,860.8 354.7,861.1 355.5,861.3 356.2,861.5 356.9,861.7 357.7,861.9 358.4,862.1 359.1,862.2 359.8,862.4 360.5,862.6 361.2,862.7 361.9,862.8 362.6,862.9 363.3,863.0 363.9,863.1 364.6,863.1 365.2,863.2 365.9,863.2 366.5,863.2 367.1,863.2 367.7,863.2 368.3,863.1 368.9,863.1 369.5,863.0 370.1,862.8 370.7,862.7 371.2,862.6 371.8,862.4 372.3,862.2 372.9,861.9 373.4,861.7 373.9,861.4 374.4,861.1 374.9,860.7 375.4,860.4 375.9,860.0 376.4,859.5 376.9,859.1 377.3,858.6 377.8,858.1 378.2,857.6 378.7,857.0 379.1,856.4 379.5,855.8 379.9,855.1 380.3,854.4 380.7,853.7 381.1,853.0 381.5,852.2 381.8,851.4 382.2,850.6 382.6,849.7 382.9,848.9 383.2,848.0 383.6,847.0 383.9,846.1 384.2,845.1 384.5,844.1 384.8,843.1 385.1,842.0 385.4,841.0 385.6,839.9 385.9,838.8 386.2,837.7 386.4,836.6 386.6,835.5 386.9,834.4 387.1,833.3 387.3,832.2 387.5,831.1 387.7,830.1 387.9,829.1 388.1,828.0 388.2,827.1 388.4,826.1 388.6,825.2 388.7,824.3 388.8,823.5 389.0,822.7 389.1,822.0 389.2,821.3 389.3,820.7 389.4,820.1 389.5,819.5 389.6,819.0 389.6,818.6 389.7,818.2 389.8,817.8 389.8,817.6 389.8,817.3 389.9,817.1 389.9,817.0 389.9,816.9 389.9,816.9 389.9,816.9 389.9,816.8 389.9,816.7 390.0,816.5 390.0,816.2 390.0,816.0 390.1,815.6 390.2,815.2 390.2,814.8 390.3,814.3 390.4,813.7 390.5,813.1 390.6,812.5 390.7,811.8 390.8,811.1 391.0,810.3 391.1,809.5 391.2,808.6 391.4,807.7 391.6,806.7 391.7,805.8 391.9,804.7 392.1,803.7 392.3,802.7 392.5,801.6 392.7,800.5 392.9,799.4 393.2,798.3 393.4,797.2 393.6,796.1 393.9,795.0 394.2,793.9 394.4,792.8 394.7,791.8 395.0,790.7 395.3,789.7 395.6,788.7 395.9,787.7 396.2,786.8 396.6,785.8 396.9,784.9 397.2,784.1 397.6,783.2 398.0,782.4 398.3,781.6 398.7,780.8 399.1,780.1 399.5,779.4 399.9,778.7 400.3,778.0 400.7,777.4 401.1,776.8 401.6,776.2 402.0,775.7 402.5,775.2 402.9,774.7 403.4,774.3 403.9,773.8 404.4,773.4 404.9,773.1 405.4,772.7 405.9,772.4 406.4,772.1 406.9,771.9 407.5,771.6 408.0,771.4 408.6,771.2 409.1,771.1 409.7,771.0 410.3,770.8 410.9,770.7 411.5,770.7 412.1,770.6 412.7,770.6 413.3,770.6 413.9,770.6 414.6,770.6 415.2,770.7 415.9,770.7 416.5,770.8 417.2,770.9 417.9,771.0 418.6,771.1 419.3,771.2 420.0,771.4 420.7,771.6 421.4,771.7 422.1,771.9 422.9,772.1 423.6,772.3 424.3,772.5 425.1,772.7 425.9,773.0 426.7,773.2 427.4,773.4 428.2,773.7 429.0,774.0 429.9,774.2 430.7,774.5 431.5,774.8 432.3,775.0 433.2,775.3 434.0,775.6 434.9,775.9 435.8,776.2 436.6,776.5 437.5,776.8 438.4,777.1 439.3,777.4 440.2,777.7 441.2,778.1 442.1,778.4 443.0,778.7 444.0,779.0 444.9,779.3 445.9,779.7 446.8,780.0 447.8,780.3 448.8,780.6 449.8,780.9 450.8,781.3 451.8,781.6 452.8,781.9 453.9,782.2 454.9,782.6 455.9,782.9 457.0,783.2 458.1,783.5 459.1,783.8 460.2,784.2 461.3,784.5 462.4,784.8 463.5,785.1 464.6,785.4 465.7,785.7 466.8,786.1 468.0,786.4 469.1,786.7 470.3,787.0 471.4,787.3 472.6,787.6 473.8,787.9 475.0,788.2 476.2,788.5 477.4,788.8 478.6,789.1 479.8,789.4 481.0,789.7 482.3,789.9 483.5,790.2 484.8,790.5 486.0,790.8 487.3,791.1 488.6,791.4 489.8,791.6 491.1,791.9 492.4,792.2 493.8,792.4 495.1,792.7 496.4,793.0 497.7,793.2 499.1,793.5 500.4,793.7 501.8,794.0 503.2,794.2 504.5,794.5 505.9,794.7 507.3,795.0 508.7,795.2 510.1,795.5 511.5,795.7 513.0,795.9 514.4,796.2 515.8,796.4 517.3,796.6 518.8,796.8 520.2,797.1 521.7,797.3 523.2,797.5 524.7,797.7 526.2,797.9 527.7,798.1 529.2,798.3 530.7,798.5 532.3,798.7 533.8,798.9 535.4,799.1 536.9,799.3 538.5,799.5 540.1,799.7 541.7,799.9 543.3,800.1 544.9,800.3 546.5,800.5 548.1,800.6 549.7,800.8 551.3,801.0 553.0,801.2 554.6,801.3 556.3,801.5 558.0,801.7 559.6,801.8 561.3,802.0 563.0,802.2 564.7,802.3 566.4,802.5 568.2,802.6 569.9,802.8 571.6,803.0 573.4,803.1 575.1,803.2 576.9,803.4 578.6,803.5 580.4,803.7 582.2,803.8 584.0,804.0 585.8,804.1 587.6,804.2 589.4,804.4 591.2,804.5 593.1,804.6 594.9,804.8 596.8,804.9 598.6,805.0 600.5,805.1 602.4,805.3 604.3,805.4 606.2,805.5 608.1,805.6 610.0,805.7 611.9,805.9 613.8,806.0 615.7,806.1 617.7,806.2 619.6,806.3 621.6,806.4 623.6,806.5 625.5,806.6 627.5,806.7 629.5,806.8 631.5,806.9 633.5,807.0 635.5,807.1 637.6,807.2 639.6,807.3 641.6,807.4 643.7,807.5 645.8,807.6 647.8,807.7 649.9,807.8 652.0,807.9 654.1,808.0 656.2,808.1 658.3,808.1 660.4,808.2 662.5,808.3 664.7,808.4 666.8,808.5 669.0,808.6 671.1,808.6 673.3,808.7 675.5,808.8 677.6,808.9 679.8,808.9 682.0,809.0 684.2,809.1 686.5,809.2 688.7,809.2 690.9,809.3 693.2,809.4 695.4,809.5 697.7,809.5 699.9,809.6 702.2,809.7 704.5,809.7 706.8,809.8 709.1,809.9 711.4,809.9 713.7,810.0 716.0,810.1 718.4,810.1 720.7,810.2 723.1,810.2 725.4,810.3 727.8,810.4 730.2,810.4 732.6,810.5 734.9,810.5 737.3,810.6 739.8,810.6 742.2,810.7 744.6,810.8 747.0,810.8 749.5,810.9 751.9,810.9 754.4,811.0 756.8,811.0 759.3,811.1 761.8,811.1 764.3,811.2" fill="none" stroke="#000000" stroke-width="2.4" stroke-linecap="square" stroke-linejoin="round"/>
<path d="M15.5,828.4 18.0,828.5 20.5,828.6 23.0,828.7 25.4,828.8 27.9,828.9 30.3,829.0 32.8,829.1 35.2,829.2 37.6,829.3 40.0,829.4 42.5,829.5 44.9,829.6 47.2,829.7 49.6,829.9 52.0,830.0 54.4,830.1 56.7,830.2 59.1,830.3 61.4,830.5 63.8,830.6 66.1,830.7 68.4,830.8 70.7,831.0 73.0,831.1 75.3,831.2 77.6,831.4 79.9,831.5 82.1,831.6 84.4,831.8 86.6,831.9 88.9,832.1 91.1,832.2 93.3,832.4 95.6,832.5 97.8,832.7 100.0,832.8 102.2,833.0 104.3,833.1 106.5,833.3 108.7,833.4 110.8,833.6 113.0,833.8 115.1,833.9 117.3,834.1 119.4,834.3 121.5,834.4 123.6,834.6 125.7,834.8 127.8,834.9 129.9,835.1 132.0,835.3 134.0,835.5 136.1,835.7 138.2,835.9 140.2,836.1 142.2,836.3 144.3,836.4 146.3,836.6 148.3,836.8 150.3,837.0 152.3,837.3 154.3,837.5 156.2,837.7 158.2,837.9 160.2,838.1 162.1,838.3 164.1,838.5 166.0,838.8 167.9,839.0 169.8,839.2 171.7,839.5 173.6,839.7 175.5,839.9 177.4,840.2 179.3,840.4 181.2,840.7 183.0,840.9 184.9,841.2 186.7,841.4 188.6,841.7 190.4,842.0 192.2,842.2 194.0,842.5 195.8,842.8 197.6,843.1 199.4,843.3 201.2,843.6 202.9,843.9 204.7,844.2 206.4,844.5 208.2,844.8 209.9,845.1 211.6,845.4 213.4,845.7 215.1,846.0 216.8,846.4 218.5,846.7 220.2,847.0 221.8,847.3 223.5,847.7 225.2,848.0 226.8,848.4 228.5,848.7 230.1,849.1 231.7,849.4 233.3,849.8 234.9,850.1 236.5,850.5 238.1,850.9 239.7,851.3 241.3,851.6 242.9,852.0 244.4,852.4 246.0,852.8 247.5,853.2 249.1,853.6 250.6,854.0 252.1,854.4 253.6,854.9 255.1,855.3 256.6,855.7 258.1,856.1 259.6,856.6 261.0,857.0 262.5,857.5 264.0,857.9 265.4,858.4 266.8,858.8 268.3,859.3 269.7,859.8 271.1,860.3 272.5,860.7 273.9,861.2 275.3,861.7 276.6,862.2 278.0,862.7 279.4,863.2 280.7,863.7 282.1,864.2 283.4,864.8 284.7,865.3 286.0,865.8 287.4,866.4 288.7,866.9 290.0,867.4 291.2,868.0 292.5,868.5 293.8,869.1 295.0,869.7 296.3,870.2 297.5,870.8 298.8,871.4 300.0,872.0 301.2,872.5 302.4,873.1 303.6,873.7 304.8,874.3 306.0,874.9 307.2,875.5 308.4,876.1 309.5,876.7 310.7,877.4 311.8,878.0 313.0,878.6 314.1,879.2 315.2,879.8 316.3,880.5 317.4,881.1 318.5,881.7 319.6,882.4 320.7,883.0 321.7,883.7 322.8,884.3 323.9,884.9 324.9,885.6 325.9,886.2 327.0,886.9 328.0,887.5 329.0,888.2 330.0,888.8 331.0,889.5 332.0,890.1 333.0,890.8 333.9,891.4 334.9,892.0 335.8,892.7 336.8,893.3 337.7,893.9 338.6,894.6 339.6,895.2 340.5,895.8 341.4,896.4 342.3,897.1 343.2,897.7 344.0,898.3 344.9,898.9 345.8,899.5 346.6,900.0 347.5,900.6 348.3,901.2 349.1,901.7 349.9,902.3 350.8,902.8 351.6,903.3 352.4,903.8 353.1,904.3 353.9,904.8 354.7,905.2 355.5,905.7 356.2,906.1 356.9,906.5 357.7,906.9 358.4,907.3 359.1,907.6 359.8,907.9 360.5,908.2 361.2,908.5 361.9,908.7 362.6,908.9 363.3,909.1 363.9,909.3 364.6,909.4 365.2,909.5 365.9,909.5 366.5,909.5 367.1,909.5 367.7,909.5 368.3,909.4 368.9,909.2 369.5,909.0 370.1,908.8 370.7,908.5 371.2,908.2 371.8,907.8 372.3,907.4 372.9,906.9 373.4,906.4 373.9,905.9 374.4,905.2 374.9,904.5 375.4,903.8 375.9,903.0 376.4,902.2 376.9,901.3 377.3,900.3 377.8,899.3 378.2,898.2 378.7,897.1 379.1,895.9 379.5,894.7 379.9,893.4 380.3,892.0 380.7,890.6 381.1,889.1 381.5,887.6 381.8,886.0 382.2,884.3 382.6,882.6 382.9,880.8 383.2,879.0 383.6,877.2 383.9,875.2 384.2,873.3 384.5,871.3 384.8,869.2 385.1,867.1 385.4,865.0 385.6,862.9 385.9,860.7 386.2,858.5 386.4,856.3 386.6,854.1 386.9,851.9 387.1,849.7 387.3,847.5 387.5,845.4 387.7,843.3 387.9,841.2 388.1,839.2 388.2,837.2 388.4,835.4 388.6,833.5 388.7,831.8 388.8,830.1 389.0,828.6 389.1,827.1 389.2,825.7 389.3,824.4 389.4,823.2 389.5,822.1 389.6,821.1 389.6,820.2 389.7,819.5 389.8,818.8 389.8,818.2 389.8,817.7 389.9,817.4 389.9,817.1 389.9,817.0 389.9,816.9 389.9,816.8 389.9,816.7 389.9,816.4 390.0,816.1 390.0,815.6 390.0,815.0 390.1,814.3 390.2,813.6 390.2,812.7 390.3,811.7 390.4,810.6 390.5,809.4 390.6,808.1 390.7,806.7 390.8,805.2 391.0,803.7 391.1,802.0 391.2,800.3 391.4,798.4 391.6,796.6 391.7,794.6 391.9,792.6 392.1,790.5 392.3,788.4 392.5,786.3 392.7,784.1 392.9,781.9 393.2,779.7 393.4,777.5 393.6,775.3 393.9,773.1 394.2,770.9 394.4,768.8 394.7,766.7 395.0,764.6 395.3,762.5 395.6,760.5 395.9,758.6 396.2,756.6 396.6,754.8 396.9,753.0 397.2,751.2 397.6,749.5 398.0,747.8 398.3,746.2 398.7,744.7 399.1,743.2 399.5,741.8 399.9,740.4 400.3,739.1 400.7,737.9 401.1,736.7 401.6,735.6 402.0,734.5 402.5,733.5 402.9,732.5 403.4,731.6 403.9,730.8 404.4,730.0 404.9,729.3 405.4,728.6 405.9,727.9 406.4,727.4 406.9,726.9 407.5,726.4 408.0,726.0 408.6,725.6 409.1,725.3 409.7,725.0 410.3,724.8 410.9,724.6 411.5,724.4 412.1,724.3 412.7,724.3 413.3,724.3 413.9,724.3 414.6,724.3 415.2,724.4 415.9,724.5 416.5,724.7 417.2,724.9 417.9,725.1 418.6,725.3 419.3,725.6 420.0,725.9 420.7,726.2 421.4,726.5 422.1,726.9 422.9,727.3 423.6,727.7 424.3,728.1 425.1,728.6 425.9,729.0 426.7,729.5 427.4,730.0 428.2,730.5 429.0,731.0 429.9,731.5 430.7,732.1 431.5,732.6 432.3,733.2 433.2,733.8 434.0,734.3 434.9,734.9 435.8,735.5 436.6,736.1 437.5,736.7 438.4,737.4 439.3,738.0 440.2,738.6 441.2,739.2 442.1,739.9 443.0,740.5 444.0,741.1 444.9,741.8 445.9,742.4 446.8,743.0 447.8,743.7 448.8,744.3 449.8,745.0 450.8,745.6 451.8,746.3 452.8,746.9 453.9,747.6 454.9,748.2 455.9,748.9 457.0,749.5 458.1,750.1 459.1,750.8 460.2,751.4 461.3,752.1 462.4,752.7 463.5,753.3 464.6,754.0 465.7,754.6 466.8,755.2 468.0,755.8 469.1,756.4 470.3,757.1 471.4,757.7 472.6,758.3 473.8,758.9 475.0,759.5 476.2,760.1 477.4,760.7 478.6,761.3 479.8,761.8 481.0,762.4 482.3,763.0 483.5,763.6 484.8,764.1 486.0,764.7 487.3,765.3 488.6,765.8 489.8,766.4 491.1,766.9 492.4,767.4 493.8,768.0 495.1,768.5 496.4,769.0 497.7,769.6 499.1,770.1 500.4,770.6 501.8,771.1 503.2,771.6 504.5,772.1 505.9,772.6 507.3,773.1 508.7,773.5 510.1,774.0 511.5,774.5 513.0,775.0 514.4,775.4 515.8,775.9 517.3,776.3 518.8,776.8 520.2,777.2 521.7,777.7 523.2,778.1 524.7,778.5 526.2,778.9 527.7,779.4 529.2,779.8 530.7,780.2 532.3,780.6 533.8,781.0 535.4,781.4 536.9,781.8 538.5,782.2 540.1,782.5 541.7,782.9 543.3,783.3 544.9,783.7 546.5,784.0 548.1,784.4 549.7,784.7 551.3,785.1 553.0,785.4 554.6,785.8 556.3,786.1 558.0,786.5 559.6,786.8 561.3,787.1 563.0,787.4 564.7,787.8 566.4,788.1 568.2,788.4 569.9,788.7 571.6,789.0 573.4,789.3 575.1,789.6 576.9,789.9 578.6,790.2 580.4,790.5 582.2,790.7 584.0,791.0 585.8,791.3 587.6,791.6 589.4,791.8 591.2,792.1 593.1,792.4 594.9,792.6 596.8,792.9 598.6,793.1 600.5,793.4 602.4,793.6 604.3,793.9 606.2,794.1 608.1,794.3 610.0,794.6 611.9,794.8 613.8,795.0 615.7,795.3 617.7,795.5 619.6,795.7 621.6,795.9 623.6,796.1 625.5,796.3 627.5,796.5 629.5,796.8 631.5,797.0 633.5,797.2 635.5,797.4 637.6,797.5 639.6,797.7 641.6,797.9 643.7,798.1 645.8,798.3 647.8,798.5 649.9,798.7 652.0,798.9 654.1,799.0 656.2,799.2 658.3,799.4 660.4,799.5 662.5,799.7 664.7,799.9 666.8,800.0 669.0,800.2 671.1,800.4 673.3,800.5 675.5,800.7 677.6,800.8 679.8,801.0 682.0,801.1 684.2,801.3 686.5,801.4 688.7,801.6 690.9,801.7 693.2,801.9 695.4,802.0 697.7,802.2 699.9,802.3 702.2,802.4 704.5,802.6 706.8,802.7 709.1,802.8 711.4,803.0 713.7,803.1 716.0,803.2 718.4,803.3 720.7,803.5 723.1,803.6 725.4,803.7 727.8,803.8 730.2,803.9 732.6,804.1 734.9,804.2 737.3,804.3 739.8,804.4 742.2,804.5 744.6,804.6 747.0,804.7 749.5,804.8 751.9,804.9 754.4,805.0 756.8,805.1 759.3,805.2 761.8,805.3 764.3,805.4" fill="none" stroke="#ff0000" stroke-width="2.4" stroke-linecap="square" stroke-linejoin="round" stroke-dasharray="13.70 13.70"/>
<path d="M15.5,834.1 18.0,834.2 20.5,834.4 23.0,834.5 25.4,834.7 27.9,834.8 30.3,835.0 32.8,835.2 35.2,835.3 37.6,835.5 40.0,835.7 42.5,835.8 44.9,836.0 47.2,836.2 49.6,836.3 52.0,836.5 54.4,836.7 56.7,836.9 59.1,837.1 61.4,837.3 63.8,837.4 66.1,837.6 68.4,837.8 70.7,838.0 73.0,838.2 75.3,838.4 77.6,838.6 79.9,838.8 82.1,839.0 84.4,839.2 86.6,839.4 88.9,839.6 91.1,839.9 93.3,840.1 95.6,840.3 97.8,840.5 100.0,840.8 102.2,841.0 104.3,841.2 106.5,841.5 108.7,841.7 110.8,841.9 113.0,842.2 115.1,842.4 117.3,842.7 119.4,842.9 121.5,843.2 123.6,843.4 125.7,843.7 127.8,844.0 129.9,844.2 132.0,844.5 134.0,844.8 136.1,845.1 138.2,845.3 140.2,845.6 142.2,845.9 144.3,846.2 146.3,846.5 148.3,846.8 150.3,847.1 152.3,847.4 154.3,847.7 156.2,848.1 158.2,848.4 160.2,848.7 162.1,849.0 164.1,849.4 166.0,849.7 167.9,850.0 169.8,850.4 171.7,850.7 173.6,851.1 175.5,851.5 177.4,851.8 179.3,852.2 181.2,852.6 183.0,852.9 184.9,853.3 186.7,853.7 188.6,854.1 190.4,854.5 192.2,854.9 194.0,855.3 195.8,855.7 197.6,856.1 199.4,856.6 201.2,857.0 202.9,857.4 204.7,857.9 206.4,858.3 208.2,858.7 209.9,859.2 211.6,859.7 213.4,860.1 215.1,860.6 216.8,861.1 218.5,861.6 220.2,862.1 221.8,862.6 223.5,863.1 225.2,863.6 226.8,864.1 228.5,864.6 230.1,865.1 231.7,865.7 233.3,866.2 234.9,866.7 236.5,867.3 238.1,867.9 239.7,868.4 241.3,869.0 242.9,869.6 244.4,870.2 246.0,870.8 247.5,871.4 249.1,872.0 250.6,872.6 252.1,873.2 253.6,873.8 255.1,874.5 256.6,875.1 258.1,875.8 259.6,876.4 261.0,877.1 262.5,877.8 264.0,878.4 265.4,879.1 266.8,879.8 268.3,880.5 269.7,881.2 271.1,881.9 272.5,882.7 273.9,883.4 275.3,884.1 276.6,884.9 278.0,885.6 279.4,886.4 280.7,887.1 282.1,887.9 283.4,888.7 284.7,889.5 286.0,890.3 287.4,891.1 288.7,891.9 290.0,892.7 291.2,893.5 292.5,894.4 293.8,895.2 295.0,896.0 296.3,896.9 297.5,897.8 298.8,898.6 300.0,899.5 301.2,900.4 302.4,901.2 303.6,902.1 304.8,903.0 306.0,903.9 307.2,904.8 308.4,905.7 309.5,906.7 310.7,907.6 311.8,908.5 313.0,909.4 314.1,910.4 315.2,911.3 316.3,912.3 317.4,913.2 318.5,914.2 319.6,915.1 320.7,916.1 321.7,917.0 322.8,918.0 323.9,919.0 324.9,919.9 325.9,920.9 327.0,921.9 328.0,922.8 329.0,923.8 330.0,924.8 331.0,925.7 332.0,926.7 333.0,927.7 333.9,928.6 334.9,929.6 335.8,930.6 336.8,931.5 337.7,932.5 338.6,933.4 339.6,934.4 340.5,935.3 341.4,936.2 342.3,937.1 343.2,938.1 344.0,939.0 344.9,939.8 345.8,940.7 346.6,941.6 347.5,942.5 348.3,943.3 349.1,944.1 349.9,944.9 350.8,945.7 351.6,946.5 352.4,947.3 353.1,948.0 353.9,948.7 354.7,949.4 355.5,950.1 356.2,950.7 356.9,951.3 357.7,951.9 358.4,952.4 359.1,952.9 359.8,953.4 360.5,953.9 361.2,954.3 361.9,954.6 362.6,954.9 363.3,955.2 363.9,955.4 364.6,955.6 365.2,955.8 365.9,955.8 366.5,955.9 367.1,955.8 367.7,955.7 368.3,955.6 368.9,955.4 369.5,955.1 370.1,954.7 370.7,954.3 371.2,953.9 371.8,953.3 372.3,952.7 372.9,952.0 373.4,951.2 373.9,950.3 374.4,949.4 374.9,948.4 375.4,947.3 375.9,946.1 376.4,944.8 376.9,943.5 377.3,942.0 377.8,940.5 378.2,938.9 378.7,937.2 379.1,935.4 379.5,933.5 379.9,931.6 380.3,929.5 380.7,927.4 381.1,925.2 381.5,922.9 381.8,920.5 382.2,918.0 382.6,915.4 382.9,912.8 383.2,910.1 383.6,907.3 383.9,904.4 384.2,901.5 384.5,898.4 384.8,895.4 385.1,892.2 385.4,889.1 385.6,885.8 385.9,882.6 386.2,879.3 386.4,876.0 386.6,872.7 386.9,869.4 387.1,866.1 387.3,862.8 387.5,859.6 387.7,856.5 387.9,853.4 388.1,850.3 388.2,847.4 388.4,844.6 388.6,841.9 388.7,839.2 388.8,836.8 389.0,834.4 389.1,832.2 389.2,830.1 389.3,828.2 389.4,826.4 389.5,824.7 389.6,823.2 389.6,821.9 389.7,820.7 389.8,819.7 389.8,818.9 389.8,818.2 389.9,817.6 389.9,817.2 389.9,817.0 389.9,816.9 389.9,816.8 389.9,816.6 389.9,816.2 390.0,815.6 390.0,814.9 390.0,814.1 390.1,813.1 390.2,811.9 390.2,810.6 390.3,809.1 390.4,807.4 390.5,805.6 390.6,803.7 390.7,801.6 390.8,799.4 391.0,797.0 391.1,794.6 391.2,791.9 391.4,789.2 391.6,786.4 391.7,783.5 391.9,780.4 392.1,777.3 392.3,774.2 392.5,771.0 392.7,767.7 392.9,764.4 393.2,761.1 393.4,757.8 393.6,754.5 393.9,751.2 394.2,748.0 394.4,744.7 394.7,741.6 395.0,738.4 395.3,735.4 395.6,732.3 395.9,729.4 396.2,726.5 396.6,723.7 396.9,721.0 397.2,718.4 397.6,715.8 398.0,713.3 398.3,710.9 398.7,708.6 399.1,706.4 399.5,704.3 399.9,702.2 400.3,700.3 400.7,698.4 401.1,696.6 401.6,694.9 402.0,693.3 402.5,691.8 402.9,690.3 403.4,689.0 403.9,687.7 404.4,686.5 404.9,685.4 405.4,684.4 405.9,683.5 406.4,682.6 406.9,681.8 407.5,681.1 408.0,680.5 408.6,679.9 409.1,679.5 409.7,679.1 410.3,678.7 410.9,678.4 411.5,678.2 412.1,678.1 412.7,678.0 413.3,677.9 413.9,678.0 414.6,678.0 415.2,678.2 415.9,678.4 416.5,678.6 417.2,678.9 417.9,679.2 418.6,679.5 419.3,679.9 420.0,680.4 420.7,680.9 421.4,681.4 422.1,681.9 422.9,682.5 423.6,683.1 424.3,683.7 425.1,684.4 425.9,685.1 426.7,685.8 427.4,686.5 428.2,687.3 429.0,688.1 429.9,688.9 430.7,689.7 431.5,690.5 432.3,691.3 433.2,692.2 434.0,693.1 434.9,694.0 435.8,694.8 436.6,695.7 437.5,696.7 438.4,697.6 439.3,698.5 440.2,699.4 441.2,700.4 442.1,701.3 443.0,702.3 444.0,703.2 444.9,704.2 445.9,705.2 446.8,706.1 447.8,707.1 448.8,708.1 449.8,709.0 450.8,710.0 451.8,711.0 452.8,711.9 453.9,712.9 454.9,713.9 455.9,714.8 457.0,715.8 458.1,716.8 459.1,717.7 460.2,718.7 461.3,719.6 462.4,720.6 463.5,721.5 464.6,722.5 465.7,723.4 466.8,724.4 468.0,725.3 469.1,726.2 470.3,727.1 471.4,728.1 472.6,729.0 473.8,729.9 475.0,730.8 476.2,731.7 477.4,732.6 478.6,733.4 479.8,734.3 481.0,735.2 482.3,736.0 483.5,736.9 484.8,737.8 486.0,738.6 487.3,739.4 488.6,740.3 489.8,741.1 491.1,741.9 492.4,742.7 493.8,743.5 495.1,744.3 496.4,745.1 497.7,745.9 499.1,746.7 500.4,747.4 501.8,748.2 503.2,748.9 504.5,749.7 505.9,750.4 507.3,751.1 508.7,751.9 510.1,752.6 511.5,753.3 513.0,754.0 514.4,754.7 515.8,755.4 517.3,756.0 518.8,756.7 520.2,757.4 521.7,758.0 523.2,758.7 524.7,759.3 526.2,760.0 527.7,760.6 529.2,761.2 530.7,761.8 532.3,762.4 533.8,763.0 535.4,763.6 536.9,764.2 538.5,764.8 540.1,765.4 541.7,765.9 543.3,766.5 544.9,767.1 546.5,767.6 548.1,768.1 549.7,768.7 551.3,769.2 553.0,769.7 554.6,770.2 556.3,770.7 558.0,771.2 559.6,771.7 561.3,772.2 563.0,772.7 564.7,773.2 566.4,773.7 568.2,774.1 569.9,774.6 571.6,775.1 573.4,775.5 575.1,775.9 576.9,776.4 578.6,776.8 580.4,777.2 582.2,777.7 584.0,778.1 585.8,778.5 587.6,778.9 589.4,779.3 591.2,779.7 593.1,780.1 594.9,780.5 596.8,780.9 598.6,781.2 600.5,781.6 602.4,782.0 604.3,782.3 606.2,782.7 608.1,783.1 610.0,783.4 611.9,783.8 613.8,784.1 615.7,784.4 617.7,784.8 619.6,785.1 621.6,785.4 623.6,785.7 625.5,786.1 627.5,786.4 629.5,786.7 631.5,787.0 633.5,787.3 635.5,787.6 637.6,787.9 639.6,788.2 641.6,788.5 643.7,788.7 645.8,789.0 647.8,789.3 649.9,789.6 652.0,789.8 654.1,790.1 656.2,790.4 658.3,790.6 660.4,790.9 662.5,791.1 664.7,791.4 666.8,791.6 669.0,791.9 671.1,792.1 673.3,792.3 675.5,792.6 677.6,792.8 679.8,793.0 682.0,793.3 684.2,793.5 686.5,793.7 688.7,793.9 690.9,794.2 693.2,794.4 695.4,794.6 697.7,794.8 699.9,795.0 702.2,795.2 704.5,795.4 706.8,795.6 709.1,795.8 711.4,796.0 713.7,796.2 716.0,796.4 718.4,796.5 720.7,796.7 723.1,796.9 725.4,797.1 727.8,797.3 730.2,797.5 732.6,797.6 734.9,797.8 737.3,798.0 739.8,798.1 742.2,798.3 744.6,798.5 747.0,798.6 749.5,798.8 751.9,799.0 754.4,799.1 756.8,799.3 759.3,799.4 761.8,799.6 764.3,799.7" fill="none" stroke="#00aa00" stroke-width="2.4" stroke-linecap="square" stroke-linejoin="round" stroke-dasharray="9.13 9.13"/>
<path d="M15.5,839.8 18.0,840.0 20.5,840.2 23.0,840.4 25.4,840.6 27.9,840.8 30.3,841.0 32.8,841.3 35.2,841.5 37.6,841.7 40.0,841.9 42.5,842.1 44.9,842.4 47.2,842.6 49.6,842.8 52.0,843.1 54.4,843.3 56.7,843.5 59.1,843.8 61.4,844.0 63.8,844.3 66.1,844.5 68.4,844.8 70.7,845.0 73.0,845.3 75.3,845.6 77.6,845.8 79.9,846.1 82.1,846.4 84.4,846.7 86.6,846.9 88.9,847.2 91.1,847.5 93.3,847.8 95.6,848.1 97.8,848.4 100.0,848.7 102.2,849.0 104.3,849.3 106.5,849.6 108.7,850.0 110.8,850.3 113.0,850.6 115.1,850.9 117.3,851.3 119.4,851.6 121.5,851.9 123.6,852.3 125.7,852.6 127.8,853.0 129.9,853.4 132.0,853.7 134.0,854.1 136.1,854.5 138.2,854.8 140.2,855.2 142.2,855.6 144.3,856.0 146.3,856.4 148.3,856.8 150.3,857.2 152.3,857.6 154.3,858.0 156.2,858.4 158.2,858.9 160.2,859.3 162.1,859.7 164.1,860.2 166.0,860.6 167.9,861.1 169.8,861.6 171.7,862.0 173.6,862.5 175.5,863.0 177.4,863.5 179.3,863.9 181.2,864.4 183.0,864.9 184.9,865.5 186.7,866.0 188.6,866.5 190.4,867.0 192.2,867.6 194.0,868.1 195.8,868.7 197.6,869.2 199.4,869.8 201.2,870.3 202.9,870.9 204.7,871.5 206.4,872.1 208.2,872.7 209.9,873.3 211.6,873.9 213.4,874.5 215.1,875.2 216.8,875.8 218.5,876.5 220.2,877.1 221.8,877.8 223.5,878.4 225.2,879.1 226.8,879.8 228.5,880.5 230.1,881.2 231.7,881.9 233.3,882.6 234.9,883.4 236.5,884.1 238.1,884.8 239.7,885.6 241.3,886.4 242.9,887.1 244.4,887.9 246.0,888.7 247.5,889.5 249.1,890.3 250.6,891.1 252.1,892.0 253.6,892.8 255.1,893.7 256.6,894.5 258.1,895.4 259.6,896.3 261.0,897.1 262.5,898.0 264.0,898.9 265.4,899.9 266.8,900.8 268.3,901.7 269.7,902.7 271.1,903.6 272.5,904.6 273.9,905.5 275.3,906.5 276.6,907.5 278.0,908.5 279.4,909.5 280.7,910.6 282.1,911.6 283.4,912.6 284.7,913.7 286.0,914.7 287.4,915.8 288.7,916.9 290.0,918.0 291.2,919.1 292.5,920.2 293.8,921.3 295.0,922.4 296.3,923.6 297.5,924.7 298.8,925.9 300.0,927.0 301.2,928.2 302.4,929.4 303.6,930.5 304.8,931.7 306.0,932.9 307.2,934.1 308.4,935.4 309.5,936.6 310.7,937.8 311.8,939.0 313.0,940.3 314.1,941.5 315.2,942.8 316.3,944.0 317.4,945.3 318.5,946.6 319.6,947.8 320.7,949.1 321.7,950.4 322.8,951.7 323.9,953.0 324.9,954.3 325.9,955.6 327.0,956.8 328.0,958.1 329.0,959.4 330.0,960.7 331.0,962.0 332.0,963.3 333.0,964.6 333.9,965.9 334.9,967.2 335.8,968.4 336.8,969.7 337.7,971.0 338.6,972.3 339.6,973.5 340.5,974.8 341.4,976.0 342.3,977.2 343.2,978.4 344.0,979.6 344.9,980.8 345.8,982.0 346.6,983.2 347.5,984.3 348.3,985.4 349.1,986.5 349.9,987.6 350.8,988.7 351.6,989.7 352.4,990.7 353.1,991.7 353.9,992.6 354.7,993.6 355.5,994.4 356.2,995.3 356.9,996.1 357.7,996.9 358.4,997.6 359.1,998.3 359.8,998.9 360.5,999.5 361.2,1000.0 361.9,1000.5 362.6,1001.0 363.3,1001.3 363.9,1001.6 364.6,1001.9 365.2,1002.0 365.9,1002.2 366.5,1002.2 367.1,1002.1 367.7,1002.0 368.3,1001.8 368.9,1001.5 369.5,1001.2 370.1,1000.7 370.7,1000.1 371.2,999.5 371.8,998.8 372.3,997.9 372.9,997.0 373.4,995.9 373.9,994.8 374.4,993.6 374.9,992.2 375.4,990.7 375.9,989.1 376.4,987.5 376.9,985.7 377.3,983.7 377.8,981.7 378.2,979.6 378.7,977.3 379.1,974.9 379.5,972.4 379.9,969.8 380.3,967.1 380.7,964.2 381.1,961.3 381.5,958.2 381.8,955.0 382.2,951.7 382.6,948.3 382.9,944.8 383.2,941.1 383.6,937.4 383.9,933.6 384.2,929.6 384.5,925.6 384.8,921.5 385.1,917.4 385.4,913.1 385.6,908.8 385.9,904.5 386.2,900.1 386.4,895.7 386.6,891.3 386.9,886.9 387.1,882.5 387.3,878.2 387.5,873.9 387.7,869.6 387.9,865.5 388.1,861.5 388.2,857.6 388.4,853.8 388.6,850.2 388.7,846.7 388.8,843.4 389.0,840.2 389.1,837.3 389.2,834.5 389.3,831.9 389.4,829.5 389.5,827.3 389.6,825.4 389.6,823.6 389.7,822.0 389.8,820.7 389.8,819.5 389.8,818.6 389.9,817.8 389.9,817.3 389.9,817.0 389.9,816.9 389.9,816.8 389.9,816.5 389.9,816.0 390.0,815.2 390.0,814.3 390.0,813.1 390.1,811.8 390.2,810.2 390.2,808.4 390.3,806.5 390.4,804.3 390.5,801.9 390.6,799.3 390.7,796.5 390.8,793.6 391.0,790.4 391.1,787.1 391.2,783.6 391.4,780.0 391.6,776.2 391.7,772.3 391.9,768.3 392.1,764.2 392.3,759.9 392.5,755.6 392.7,751.3 392.9,746.9 393.2,742.5 393.4,738.1 393.6,733.7 393.9,729.3 394.2,725.0 394.4,720.7 394.7,716.4 395.0,712.3 395.3,708.2 395.6,704.2 395.9,700.2 396.2,696.4 396.6,692.7 396.9,689.0 397.2,685.5 397.6,682.1 398.0,678.8 398.3,675.6 398.7,672.5 399.1,669.6 399.5,666.7 399.9,664.0 400.3,661.4 400.7,658.9 401.1,656.5 401.6,654.2 402.0,652.1 402.5,650.1 402.9,648.1 403.4,646.3 403.9,644.7 404.4,643.1 404.9,641.6 405.4,640.2 405.9,639.0 406.4,637.9 406.9,636.8 407.5,635.9 408.0,635.0 408.6,634.3 409.1,633.7 409.7,633.1 410.3,632.6 410.9,632.3 411.5,632.0 412.1,631.8 412.7,631.7 413.3,631.6 413.9,631.6 414.6,631.8 415.2,631.9 415.9,632.2 416.5,632.5 417.2,632.8 417.9,633.3 418.6,633.8 419.3,634.3 420.0,634.9 420.7,635.5 421.4,636.2 422.1,636.9 422.9,637.7 423.6,638.5 424.3,639.4 425.1,640.2 425.9,641.2 426.7,642.1 427.4,643.1 428.2,644.1 429.0,645.1 429.9,646.2 430.7,647.3 431.5,648.4 432.3,649.5 433.2,650.6 434.0,651.8 434.9,653.0 435.8,654.2 436.6,655.4 437.5,656.6 438.4,657.8 439.3,659.0 440.2,660.3 441.2,661.5 442.1,662.8 443.0,664.1 444.0,665.4 444.9,666.6 445.9,667.9 446.8,669.2 447.8,670.5 448.8,671.8 449.8,673.1 450.8,674.4 451.8,675.7 452.8,677.0 453.9,678.2 454.9,679.5 455.9,680.8 457.0,682.1 458.1,683.4 459.1,684.7 460.2,686.0 461.3,687.2 462.4,688.5 463.5,689.8 464.6,691.0 465.7,692.3 466.8,693.5 468.0,694.8 469.1,696.0 470.3,697.2 471.4,698.4 472.6,699.7 473.8,700.9 475.0,702.1 476.2,703.3 477.4,704.4 478.6,705.6 479.8,706.8 481.0,707.9 482.3,709.1 483.5,710.2 484.8,711.4 486.0,712.5 487.3,713.6 488.6,714.7 489.8,715.8 491.1,716.9 492.4,718.0 493.8,719.1 495.1,720.1 496.4,721.2 497.7,722.2 499.1,723.2 500.4,724.3 501.8,725.3 503.2,726.3 504.5,727.3 505.9,728.3 507.3,729.2 508.7,730.2 510.1,731.1 511.5,732.1 513.0,733.0 514.4,733.9 515.8,734.9 517.3,735.8 518.8,736.7 520.2,737.5 521.7,738.4 523.2,739.3 524.7,740.1 526.2,741.0 527.7,741.8 529.2,742.7 530.7,743.5 532.3,744.3 533.8,745.1 535.4,745.9 536.9,746.7 538.5,747.4 540.1,748.2 541.7,749.0 543.3,749.7 544.9,750.4 546.5,751.2 548.1,751.9 549.7,752.6 551.3,753.3 553.0,754.0 554.6,754.7 556.3,755.4 558.0,756.0 559.6,756.7 561.3,757.3 563.0,758.0 564.7,758.6 566.4,759.3 568.2,759.9 569.9,760.5 571.6,761.1 573.4,761.7 575.1,762.3 576.9,762.9 578.6,763.5 580.4,764.0 582.2,764.6 584.0,765.1 585.8,765.7 587.6,766.2 589.4,766.8 591.2,767.3 593.1,767.8 594.9,768.3 596.8,768.9 598.6,769.4 600.5,769.9 602.4,770.3 604.3,770.8 606.2,771.3 608.1,771.8 610.0,772.2 611.9,772.7 613.8,773.2 615.7,773.6 617.7,774.1 619.6,774.5 621.6,774.9 623.6,775.4 625.5,775.8 627.5,776.2 629.5,776.6 631.5,777.0 633.5,777.4 635.5,777.8 637.6,778.2 639.6,778.6 641.6,779.0 643.7,779.3 645.8,779.7 647.8,780.1 649.9,780.4 652.0,780.8 654.1,781.2 656.2,781.5 658.3,781.9 660.4,782.2 662.5,782.5 664.7,782.9 666.8,783.2 669.0,783.5 671.1,783.8 673.3,784.2 675.5,784.5 677.6,784.8 679.8,785.1 682.0,785.4 684.2,785.7 686.5,786.0 688.7,786.3 690.9,786.6 693.2,786.9 695.4,787.1 697.7,787.4 699.9,787.7 702.2,788.0 704.5,788.2 706.8,788.5 709.1,788.8 711.4,789.0 713.7,789.3 716.0,789.5 718.4,789.8 720.7,790.0 723.1,790.3 725.4,790.5 727.8,790.7 730.2,791.0 732.6,791.2 734.9,791.4 737.3,791.7 739.8,791.9 742.2,792.1 744.6,792.3 747.0,792.5 749.5,792.8 751.9,793.0 754.4,793.2 756.8,793.4 759.3,793.6 761.8,793.8 764.3,794.0" fill="none" stroke="#0000ff" stroke-width="2.4" stroke-linecap="square" stroke-linejoin="round" stroke-dasharray="6.85 6.85"/>
<path d="M15.5,845.5 18.0,845.8 20.5,846.0 23.0,846.3 25.4,846.6 27.9,846.8 30.3,847.1 32.8,847.3 35.2,847.6 37.6,847.9 40.0,848.2 42.5,848.5 44.9,848.7 47.2,849.0 49.6,849.3 52.0,849.6 54.4,849.9 56.7,850.2 59.1,850.5 61.4,850.8 63.8,851.1 66.1,851.4 68.4,851.8 70.7,852.1 73.0,852.4 75.3,852.7 77.6,853.1 79.9,853.4 82.1,853.8 84.4,854.1 86.6,854.5 88.9,854.8 91.1,855.2 93.3,855.5 95.6,855.9 97.8,856.3 100.0,856.7 102.2,857.0 104.3,857.4 106.5,857.8 108.7,858.2 110.8,858.6 113.0,859.0 115.1,859.4 117.3,859.9 119.4,860.3 121.5,860.7 123.6,861.1 125.7,861.6 127.8,862.0 129.9,862.5 132.0,862.9 134.0,863.4 136.1,863.8 138.2,864.3 140.2,864.8 142.2,865.3 144.3,865.8 146.3,866.3 148.3,866.8 150.3,867.3 152.3,867.8 154.3,868.3 156.2,868.8 158.2,869.4 160.2,869.9 162.1,870.5 164.1,871.0 166.0,871.6 167.9,872.1 169.8,872.7 171.7,873.3 173.6,873.9 175.5,874.5 177.4,875.1 179.3,875.7 181.2,876.3 183.0,877.0 184.9,877.6 186.7,878.2 188.6,878.9 190.4,879.6 192.2,880.2 194.0,880.9 195.8,881.6 197.6,882.3 199.4,883.0 201.2,883.7 202.9,884.4 204.7,885.2 206.4,885.9 208.2,886.6 209.9,887.4 211.6,888.2 213.4,889.0 215.1,889.7 216.8,890.5 218.5,891.3 220.2,892.2 221.8,893.0 223.5,893.8 225.2,894.7 226.8,895.5 228.5,896.4 230.1,897.3 231.7,898.2 233.3,899.1 234.9,900.0 236.5,900.9 238.1,901.8 239.7,902.8 241.3,903.7 242.9,904.7 244.4,905.7 246.0,906.7 247.5,907.7 249.1,908.7 250.6,909.7 252.1,910.7 253.6,911.8 255.1,912.8 256.6,913.9 258.1,915.0 259.6,916.1 261.0,917.2 262.5,918.3 264.0,919.5 265.4,920.6 266.8,921.8 268.3,922.9 269.7,924.1 271.1,925.3 272.5,926.5 273.9,927.7 275.3,928.9 276.6,930.2 278.0,931.4 279.4,932.7 280.7,934.0 282.1,935.3 283.4,936.6 284.7,937.9 286.0,939.2 287.4,940.5 288.7,941.9 290.0,943.3 291.2,944.6 292.5,946.0 293.8,947.4 295.0,948.8 296.3,950.2 297.5,951.7 298.8,953.1 300.0,954.5 301.2,956.0 302.4,957.5 303.6,959.0 304.8,960.4 306.0,961.9 307.2,963.5 308.4,965.0 309.5,966.5 310.7,968.0 311.8,969.6 313.0,971.1 314.1,972.7 315.2,974.3 316.3,975.8 317.4,977.4 318.5,979.0 319.6,980.6 320.7,982.2 321.7,983.8 322.8,985.4 323.9,987.0 324.9,988.6 325.9,990.2 327.0,991.8 328.0,993.5 329.0,995.1 330.0,996.7 331.0,998.3 332.0,999.9 333.0,1001.5 333.9,1003.1 334.9,1004.7 335.8,1006.3 336.8,1007.9 337.7,1009.5 338.6,1011.1 339.6,1012.7 340.5,1014.2 341.4,1015.8 342.3,1017.3 343.2,1018.8 344.0,1020.3 344.9,1021.8 345.8,1023.3 346.6,1024.7 347.5,1026.2 348.3,1027.6 349.1,1028.9 349.9,1030.3 350.8,1031.6 351.6,1032.9 352.4,1034.2 353.1,1035.4 353.9,1036.6 354.7,1037.7 355.5,1038.8 356.2,1039.9 356.9,1040.9 357.7,1041.9 358.4,1042.8 359.1,1043.6 359.8,1044.4 360.5,1045.2 361.2,1045.8 361.9,1046.4 362.6,1047.0 363.3,1047.4 363.9,1047.8 364.6,1048.1 365.2,1048.3 365.9,1048.5 366.5,1048.5 367.1,1048.4 367.7,1048.3 368.3,1048.0 368.9,1047.7 369.5,1047.2 370.1,1046.6 370.7,1046.0 371.2,1045.2 371.8,1044.2 372.3,1043.2 372.9,1042.0 373.4,1040.7 373.9,1039.3 374.4,1037.7 374.9,1036.0 375.4,1034.2 375.9,1032.2 376.4,1030.1 376.9,1027.8 377.3,1025.5 377.8,1022.9 378.2,1020.2 378.7,1017.4 379.1,1014.4 379.5,1011.3 379.9,1008.0 380.3,1004.6 380.7,1001.1 381.1,997.4 381.5,993.5 381.8,989.5 382.2,985.4 382.6,981.1 382.9,976.7 383.2,972.2 383.6,967.5 383.9,962.7 384.2,957.8 384.5,952.8 384.8,947.7 385.1,942.5 385.4,937.2 385.6,931.8 385.9,926.4 386.2,920.9 386.4,915.4 386.6,909.9 386.9,904.4 387.1,898.9 387.3,893.5 387.5,888.1 387.7,882.8 387.9,877.7 388.1,872.6 388.2,867.8 388.4,863.0 388.6,858.5 388.7,854.1 388.8,850.0 389.0,846.1 389.1,842.4 389.2,838.9 389.3,835.7 389.4,832.7 389.5,830.0 389.6,827.5 389.6,825.3 389.7,823.3 389.8,821.6 389.8,820.2 389.8,819.0 389.9,818.1 389.9,817.4 389.9,817.0 389.9,816.9 389.9,816.8 389.9,816.4 389.9,815.7 390.0,814.8 390.0,813.6 390.0,812.2 390.1,810.5 390.2,808.5 390.2,806.3 390.3,803.8 390.4,801.1 390.5,798.1 390.6,794.9 390.7,791.4 390.8,787.7 391.0,783.8 391.1,779.7 391.2,775.3 391.4,770.8 391.6,766.0 391.7,761.2 391.9,756.1 392.1,751.0 392.3,745.7 392.5,740.3 392.7,734.9 392.9,729.4 393.2,723.9 393.4,718.4 393.6,712.9 393.9,707.4 394.2,702.0 394.4,696.6 394.7,691.3 395.0,686.1 395.3,681.0 395.6,676.0 395.9,671.1 396.2,666.3 396.6,661.6 396.9,657.1 397.2,652.7 397.6,648.4 398.0,644.3 398.3,640.3 398.7,636.4 399.1,632.7 399.5,629.2 399.9,625.8 400.3,622.5 400.7,619.4 401.1,616.4 401.6,613.6 402.0,610.9 402.5,608.3 402.9,606.0 403.4,603.7 403.9,601.6 404.4,599.6 404.9,597.8 405.4,596.1 405.9,594.5 406.4,593.1 406.9,591.8 407.5,590.6 408.0,589.6 408.6,588.6 409.1,587.8 409.7,587.2 410.3,586.6 410.9,586.1 411.5,585.8 412.1,585.5 412.7,585.4 413.3,585.3 413.9,585.3 414.6,585.5 415.2,585.7 415.9,586.0 416.5,586.4 417.2,586.8 417.9,587.4 418.6,588.0 419.3,588.6 420.0,589.4 420.7,590.2 421.4,591.0 422.1,591.9 422.9,592.9 423.6,593.9 424.3,595.0 425.1,596.1 425.9,597.2 426.7,598.4 427.4,599.6 428.2,600.9 429.0,602.2 429.9,603.5 430.7,604.9 431.5,606.2 432.3,607.6 433.2,609.1 434.0,610.5 434.9,612.0 435.8,613.5 436.6,615.0 437.5,616.5 438.4,618.0 439.3,619.6 440.2,621.1 441.2,622.7 442.1,624.3 443.0,625.9 444.0,627.5 444.9,629.1 445.9,630.7 446.8,632.3 447.8,633.9 448.8,635.5 449.8,637.1 450.8,638.7 451.8,640.3 452.8,642.0 453.9,643.6 454.9,645.2 455.9,646.8 457.0,648.4 458.1,650.0 459.1,651.6 460.2,653.2 461.3,654.8 462.4,656.4 463.5,658.0 464.6,659.5 465.7,661.1 466.8,662.7 468.0,664.2 469.1,665.8 470.3,667.3 471.4,668.8 472.6,670.3 473.8,671.9 475.0,673.4 476.2,674.8 477.4,676.3 478.6,677.8 479.8,679.3 481.0,680.7 482.3,682.1 483.5,683.6 484.8,685.0 486.0,686.4 487.3,687.8 488.6,689.2 489.8,690.5 491.1,691.9 492.4,693.3 493.8,694.6 495.1,695.9 496.4,697.2 497.7,698.5 499.1,699.8 500.4,701.1 501.8,702.4 503.2,703.6 504.5,704.9 505.9,706.1 507.3,707.3 508.7,708.5 510.1,709.7 511.5,710.9 513.0,712.0 514.4,713.2 515.8,714.3 517.3,715.5 518.8,716.6 520.2,717.7 521.7,718.8 523.2,719.9 524.7,721.0 526.2,722.0 527.7,723.1 529.2,724.1 530.7,725.1 532.3,726.1 533.8,727.1 535.4,728.1 536.9,729.1 538.5,730.1 540.1,731.0 541.7,732.0 543.3,732.9 544.9,733.8 546.5,734.7 548.1,735.6 549.7,736.5 551.3,737.4 553.0,738.3 554.6,739.1 556.3,740.0 558.0,740.8 559.6,741.6 561.3,742.5 563.0,743.3 564.7,744.1 566.4,744.8 568.2,745.6 569.9,746.4 571.6,747.2 573.4,747.9 575.1,748.6 576.9,749.4 578.6,750.1 580.4,750.8 582.2,751.5 584.0,752.2 585.8,752.9 587.6,753.6 589.4,754.2 591.2,754.9 593.1,755.6 594.9,756.2 596.8,756.8 598.6,757.5 600.5,758.1 602.4,758.7 604.3,759.3 606.2,759.9 608.1,760.5 610.0,761.1 611.9,761.7 613.8,762.2 615.7,762.8 617.7,763.3 619.6,763.9 621.6,764.4 623.6,765.0 625.5,765.5 627.5,766.0 629.5,766.5 631.5,767.0 633.5,767.5 635.5,768.0 637.6,768.5 639.6,769.0 641.6,769.5 643.7,770.0 645.8,770.4 647.8,770.9 649.9,771.3 652.0,771.8 654.1,772.2 656.2,772.7 658.3,773.1 660.4,773.5 662.5,773.9 664.7,774.4 666.8,774.8 669.0,775.2 671.1,775.6 673.3,776.0 675.5,776.4 677.6,776.8 679.8,777.1 682.0,777.5 684.2,777.9 686.5,778.3 688.7,778.6 690.9,779.0 693.2,779.3 695.4,779.7 697.7,780.0 699.9,780.4 702.2,780.7 704.5,781.1 706.8,781.4 709.1,781.7 711.4,782.0 713.7,782.4 716.0,782.7 718.4,783.0 720.7,783.3 723.1,783.6 725.4,783.9 727.8,784.2 730.2,784.5 732.6,784.8 734.9,785.1 737.3,785.3 739.8,785.6 742.2,785.9 744.6,786.2 747.0,786.5 749.5,786.7 751.9,787.0 754.4,787.2 756.8,787.5 759.3,787.8 761.8,788.0 764.3,788.3" fill="none" stroke="#800080" stroke-width="2.4" stroke-linecap="square" stroke-linejoin="round" stroke-dasharray="4.57 4.57"/>
<line x1="0" y1="816.9" x2="780.0" y2="816.9" stroke="#000" stroke-width="2.4"/>
<line x1="389.9" y1="576.4" x2="389.9" y2="1057.6" stroke="#000" stroke-width="2.6"/>
<line x1="15.5" y1="816.9" x2="15.5" y2="813.9" stroke="#000" stroke-width="1.8"/>
<line x1="62.3" y1="816.9" x2="62.3" y2="815.1" stroke="#000" stroke-width="0.9"/>
<line x1="109.1" y1="816.9" x2="109.1" y2="815.1" stroke="#000" stroke-width="0.9"/>
<line x1="155.9" y1="816.9" x2="155.9" y2="815.1" stroke="#000" stroke-width="0.9"/>
<line x1="202.7" y1="816.9" x2="202.7" y2="813.9" stroke="#000" stroke-width="1.8"/>
<line x1="249.5" y1="816.9" x2="249.5" y2="815.1" stroke="#000" stroke-width="0.9"/>
<line x1="296.3" y1="816.9" x2="296.3" y2="815.1" stroke="#000" stroke-width="0.9"/>
<line x1="343.1" y1="816.9" x2="343.1" y2="815.1" stroke="#000" stroke-width="0.9"/>
<line x1="436.7" y1="816.9" x2="436.7" y2="815.1" stroke="#000" stroke-width="0.9"/>
<line x1="483.5" y1="816.9" x2="483.5" y2="815.1" stroke="#000" stroke-width="0.9"/>
<line x1="530.3" y1="816.9" x2="530.3" y2="815.1" stroke="#000" stroke-width="0.9"/>
<line x1="577.1" y1="816.9" x2="577.1" y2="813.9" stroke="#000" stroke-width="1.8"/>
<line x1="623.9" y1="816.9" x2="623.9" y2="815.1" stroke="#000" stroke-width="0.9"/>
<line x1="670.7" y1="816.9" x2="670.7" y2="815.1" stroke="#000" stroke-width="0.9"/>
<line x1="717.5" y1="816.9" x2="717.5" y2="815.1" stroke="#000" stroke-width="0.9"/>
<line x1="764.3" y1="816.9" x2="764.3" y2="813.9" stroke="#000" stroke-width="1.8"/>
<line x1="389.9" y1="1050.1" x2="391.8" y2="1050.1" stroke="#000" stroke-width="0.9"/>
<line x1="389.9" y1="1032.2" x2="391.8" y2="1032.2" stroke="#000" stroke-width="0.9"/>
<line x1="389.9" y1="1014.2" x2="391.8" y2="1014.2" stroke="#000" stroke-width="0.9"/>
<line x1="389.9" y1="996.3" x2="393.0" y2="996.3" stroke="#000" stroke-width="1.8"/>
<line x1="389.9" y1="978.4" x2="391.8" y2="978.4" stroke="#000" stroke-width="0.9"/>
<line x1="389.9" y1="960.4" x2="391.8" y2="960.4" stroke="#000" stroke-width="0.9"/>
<line x1="389.9" y1="942.5" x2="391.8" y2="942.5" stroke="#000" stroke-width="0.9"/>
<line x1="389.9" y1="924.5" x2="391.8" y2="924.5" stroke="#000" stroke-width="0.9"/>
<line x1="389.9" y1="906.6" x2="393.0" y2="906.6" stroke="#000" stroke-width="1.8"/>
<line x1="389.9" y1="888.7" x2="391.8" y2="888.7" stroke="#000" stroke-width="0.9"/>
<line x1="389.9" y1="870.7" x2="391.8" y2="870.7" stroke="#000" stroke-width="0.9"/>
<line x1="389.9" y1="852.8" x2="391.8" y2="852.8" stroke="#000" stroke-width="0.9"/>
<line x1="389.9" y1="834.8" x2="391.8" y2="834.8" stroke="#000" stroke-width="0.9"/>
<line x1="389.9" y1="799.0" x2="391.8" y2="799.0" stroke="#000" stroke-width="0.9"/>
<line x1="389.9" y1="781.0" x2="391.8" y2="781.0" stroke="#000" stroke-width="0.9"/>
<line x1="389.9" y1="763.1" x2="391.8" y2="763.1" stroke="#000" stroke-width="0.9"/>
<line x1="389.9" y1="745.1" x2="391.8" y2="745.1" stroke="#000" stroke-width="0.9"/>
<line x1="389.9" y1="727.2" x2="393.0" y2="727.2" stroke="#000" stroke-width="1.8"/>
<line x1="389.9" y1="709.3" x2="391.8" y2="709.3" stroke="#000" stroke-width="0.9"/>
<line x1="389.9" y1="691.3" x2="391.8" y2="691.3" stroke="#000" stroke-width="0.9"/>
<line x1="389.9" y1="673.4" x2="391.8" y2="673.4" stroke="#000" stroke-width="0.9"/>
<line x1="389.9" y1="655.4" x2="391.8" y2="655.4" stroke="#000" stroke-width="0.9"/>
<line x1="389.9" y1="637.5" x2="393.0" y2="637.5" stroke="#000" stroke-width="1.8"/>
<line x1="389.9" y1="619.6" x2="391.8" y2="619.6" stroke="#000" stroke-width="0.9"/>
<line x1="389.9" y1="601.6" x2="391.8" y2="601.6" stroke="#000" stroke-width="0.9"/>
<line x1="389.9" y1="583.7" x2="391.8" y2="583.7" stroke="#000" stroke-width="0.9"/>
<text x="0.1" y="809.6" font-size="23.5"><tspan dy="-1.6">-</tspan><tspan dx="2.5" dy="1.6">40</tspan></text>
<text x="187.3" y="809.6" font-size="23.5"><tspan dy="-1.6">-</tspan><tspan dx="2.2" dy="1.6">20</tspan></text>
<text x="576.8" y="843.0" font-size="23.5" text-anchor="middle">20</text>
<text x="764.4" y="843.0" font-size="23.5" text-anchor="middle">40</text>
<text x="386.7" y="736.0" font-size="23.5" text-anchor="end">10</text>
<text x="398.0" y="915.4" font-size="23.5"><tspan dy="-1.6">-</tspan><tspan dx="1.0" dy="1.6">10</tspan></text>
<text x="386.7" y="646.3" font-size="23.5" text-anchor="end">20</text>
<text x="398.0" y="1005.1" font-size="23.5"><tspan dy="-1.6">-</tspan><tspan dx="1.0" dy="1.6">20</tspan></text>
<text transform="translate(358.2,565.8) scale(1,1.07)" font-size="24.5">B</text>
<text x="374.1" y="571.4" font-size="17.5">z</text>
<text transform="translate(388.3,566.1) scale(1,1.07)" font-size="24.5">(T)</text>
<text x="783.1" y="823.5" font-size="24.5" text-anchor="start">x</text>
<text transform="translate(797.4,824.2) scale(1,1.07)" font-size="24.5" letter-spacing="-0.4">(Å)</text>
<rect x="32.5" y="580.8" width="93.4" height="150.3" fill="#fff" stroke="#000" stroke-width="1.3"/>
<text x="53.1" y="601.0" font-size="19.5">F</text>
<text x="60.8" y="606.9" font-size="13.4">0</text>
<text x="71.4" y="601.0" font-size="19.5" letter-spacing="-0.5">(nN)</text>
<text x="38.9" y="629.6" font-size="18">0.1</text>
<line x1="72.2" y1="623.3" x2="117.6" y2="623.3" stroke="#000000" stroke-width="1.9"/>
<text x="38.9" y="652.8" font-size="18">0.2</text>
<line x1="72.2" y1="646.5" x2="117.6" y2="646.5" stroke="#ff0000" stroke-width="1.9" stroke-dasharray="11.00 10.00"/>
<text x="38.9" y="676.0" font-size="18">0.3</text>
<line x1="72.2" y1="669.7" x2="117.6" y2="669.7" stroke="#00aa00" stroke-width="1.9" stroke-dasharray="7.60 6.40"/>
<text x="38.9" y="699.2" font-size="18">0.4</text>
<line x1="72.2" y1="692.9" x2="117.6" y2="692.9" stroke="#0000ff" stroke-width="1.9" stroke-dasharray="5.90 4.60"/>
<text x="38.9" y="722.4" font-size="18">0.5</text>
<line x1="72.2" y1="716.1" x2="117.6" y2="716.1" stroke="#800080" stroke-width="1.9" stroke-dasharray="4.10 2.90"/>
</svg>
</body></html>
